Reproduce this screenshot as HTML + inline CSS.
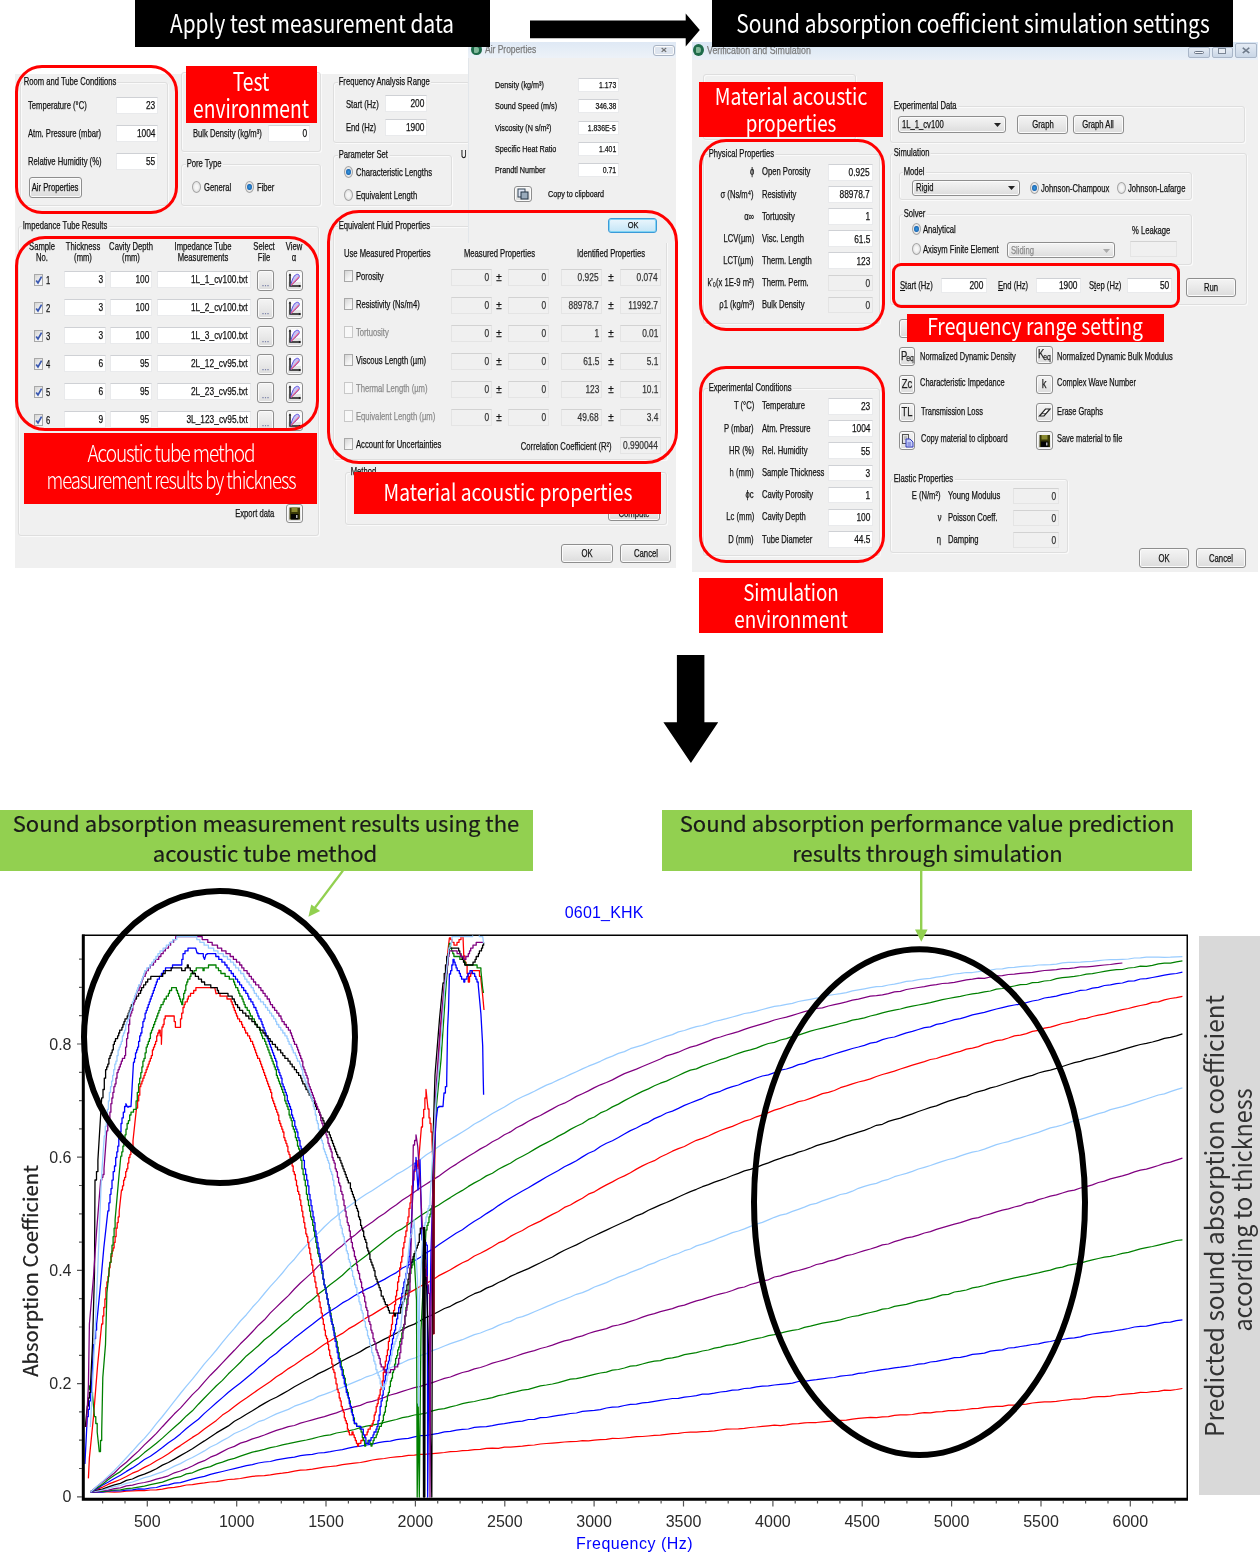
<!DOCTYPE html>
<html lang="en"><head><meta charset="utf-8"><title>Sound absorption coefficient simulation</title>
<style>
html,body{margin:0;padding:0;background:#fff;}
#pg{position:relative;width:1260px;height:1554px;overflow:hidden;background:#fff;font-family:"Liberation Sans",sans-serif;color:#111;}
#pg div,#pg svg.ov{position:absolute;}
#pg div{box-sizing:border-box;}
.t{white-space:nowrap;}
#dl .t{-webkit-text-stroke:0.25px;}
.k{font-family:"Noto Sans CJK KR","Liberation Sans",sans-serif;}
.gs{-webkit-text-stroke:0.2px #1a1a1a;}
.gb{border:1px solid #dedede;border-radius:3px;box-shadow:inset 1px 1px 0 #fafafa,1px 1px 0 #fafafa;}
.in{background:#fff;border:1px solid #e9eaec;border-top-color:#cfd1d5;}
.dis{background:#f0f0f0;border-color:#e4e4e4;border-top-color:#d2d2d2;}
.bt{background:linear-gradient(#f4f4f4,#e9e9e9 50%,#dcdcdc);border:1px solid #8e8e8e;border-radius:3px;box-shadow:inset 0 0 0 1px #fbfbfb;}
.ok{background:linear-gradient(#eaf6fd,#c4e5f6);border-color:#3c9ad8;box-shadow:inset 0 0 0 1px #7fd4f4;}
.ck{background:linear-gradient(135deg,#d4d4d4,#f6f6f6 70%);border:1px solid #a8a8a8;}
.ckd{border-color:#c8c8c8;background:#f8f8f8;}
.rd{background:radial-gradient(#f6f6f6 30%,#d2d2d2);border:1px solid #a6a6a6;border-radius:50%;}
.rd i{position:absolute;left:1.5px;top:2px;width:4.500px;height:6px;border-radius:50%;background:radial-gradient(#3a9ae0,#0a4c9c);display:block;}
.bt svg,.ck svg{position:absolute;left:-1px;top:-1px;}
</style></head><body><div id="pg">
<div id="dl" style="left:0;top:0;width:1260px;height:660px;filter:blur(0.45px);">
<div style="left:15px;top:73.5px;width:661px;height:494.5px;background:#f0f0f0;"></div>
<div class="gb" style="left:20px;top:82px;width:148px;height:124px;"></div>
<div class="t" style="top:75.4px;font-size:11px;line-height:13.2px;left:22.5px;transform-origin:0 50%;transform:scaleX(0.695);background:#f0f0f0;padding:0 2px 0 1px;">Room and Tube Conditions</div>
<div class="t" style="top:98.9px;font-size:11px;line-height:13.2px;left:28px;transform-origin:0 50%;transform:scaleX(0.695);">Temperature (°C)</div>
<div class="in" style="left:116px;top:97px;width:42px;height:17px;"></div>
<div class="t" style="top:99.4px;font-size:11px;line-height:13.2px;color:#111;right:1105px;transform-origin:100% 50%;transform:scaleX(0.76);">23</div>
<div class="t" style="top:126.9px;font-size:11px;line-height:13.2px;left:28px;transform-origin:0 50%;transform:scaleX(0.695);">Atm. Pressure (mbar)</div>
<div class="in" style="left:116px;top:125px;width:42px;height:17px;"></div>
<div class="t" style="top:127.4px;font-size:11px;line-height:13.2px;color:#111;right:1105px;transform-origin:100% 50%;transform:scaleX(0.76);">1004</div>
<div class="t" style="top:154.9px;font-size:11px;line-height:13.2px;left:28px;transform-origin:0 50%;transform:scaleX(0.695);">Relative Humidity (%)</div>
<div class="in" style="left:116px;top:153px;width:42px;height:17px;"></div>
<div class="t" style="top:155.4px;font-size:11px;line-height:13.2px;color:#111;right:1105px;transform-origin:100% 50%;transform:scaleX(0.76);">55</div>
<div class="bt" style="left:28.5px;top:177px;width:53.0px;height:20.5px;"></div>
<div class="t" style="top:181.2px;font-size:11px;line-height:13.2px;left:55.0px;transform:translateX(-50%) scaleX(0.7);">Air Properties</div>
<div class="gb" style="left:181px;top:72px;width:140px;height:80px;"></div>
<div class="t" style="top:126.9px;font-size:11px;line-height:13.2px;left:193px;transform-origin:0 50%;transform:scaleX(0.695);">Bulk Density (kg/m³)</div>
<div class="in" style="left:268px;top:125px;width:42px;height:17px;"></div>
<div class="t" style="top:127.4px;font-size:11px;line-height:13.2px;color:#111;right:953px;transform-origin:100% 50%;transform:scaleX(0.76);">0</div>
<div class="gb" style="left:181px;top:164px;width:140px;height:42px;"></div>
<div class="t" style="top:157.4px;font-size:11px;line-height:13.2px;left:185.5px;transform-origin:0 50%;transform:scaleX(0.695);background:#f0f0f0;padding:0 2px 0 1px;">Pore Type</div>
<div class="rd" style="left:191.6px;top:181.2px;width:9.0px;height:11.5px;"></div>
<div class="t" style="top:180.9px;font-size:11px;line-height:13.2px;left:204px;transform-origin:0 50%;transform:scaleX(0.695);">General</div>
<div class="rd" style="left:244.6px;top:181.2px;width:9.0px;height:11.5px;"><i></i></div>
<div class="t" style="top:180.9px;font-size:11px;line-height:13.2px;left:257px;transform-origin:0 50%;transform:scaleX(0.695);">Fiber</div>
<div class="gb" style="left:333px;top:82px;width:137px;height:61px;"></div>
<div class="t" style="top:75.4px;font-size:11px;line-height:13.2px;left:337.5px;transform-origin:0 50%;transform:scaleX(0.695);background:#f0f0f0;padding:0 2px 0 1px;">Frequency Analysis Range</div>
<div class="t" style="top:97.9px;font-size:11px;line-height:13.2px;left:346px;transform-origin:0 50%;transform:scaleX(0.695);">Start (Hz)</div>
<div class="in" style="left:385px;top:95px;width:42px;height:17px;"></div>
<div class="t" style="top:97.4px;font-size:11px;line-height:13.2px;color:#111;right:836px;transform-origin:100% 50%;transform:scaleX(0.76);">200</div>
<div class="t" style="top:120.9px;font-size:11px;line-height:13.2px;left:346px;transform-origin:0 50%;transform:scaleX(0.695);">End (Hz)</div>
<div class="in" style="left:385px;top:119px;width:42px;height:17px;"></div>
<div class="t" style="top:121.4px;font-size:11px;line-height:13.2px;color:#111;right:836px;transform-origin:100% 50%;transform:scaleX(0.76);">1900</div>
<div class="gb" style="left:333px;top:155px;width:119px;height:51px;"></div>
<div class="t" style="top:148.4px;font-size:11px;line-height:13.2px;left:337.5px;transform-origin:0 50%;transform:scaleX(0.695);background:#f0f0f0;padding:0 2px 0 1px;">Parameter Set</div>
<div class="rd" style="left:343.6px;top:166.2px;width:9.0px;height:11.5px;"><i></i></div>
<div class="t" style="top:165.9px;font-size:11px;line-height:13.2px;left:356px;transform-origin:0 50%;transform:scaleX(0.695);">Characteristic Lengths</div>
<div class="rd" style="left:343.6px;top:189.2px;width:9.0px;height:11.5px;"></div>
<div class="t" style="top:188.9px;font-size:11px;line-height:13.2px;left:356px;transform-origin:0 50%;transform:scaleX(0.695);">Equivalent Length</div>
<div class="t" style="top:148.4px;font-size:11px;line-height:13.2px;left:461px;transform-origin:0 50%;transform:scaleX(0.695);">U</div>
<div class="gb" style="left:18px;top:226px;width:301px;height:310px;"></div>
<div class="t" style="top:219.4px;font-size:11px;line-height:13.2px;left:21.5px;transform-origin:0 50%;transform:scaleX(0.695);background:#f0f0f0;padding:0 2px 0 1px;">Impedance Tube Results</div>
<div class="t" style="top:240.4px;font-size:11px;line-height:13.2px;left:42px;transform:translateX(-50%) scaleX(0.695);">Sample</div>
<div class="t" style="top:251.4px;font-size:11px;line-height:13.2px;left:42px;transform:translateX(-50%) scaleX(0.695);">No.</div>
<div class="t" style="top:240.4px;font-size:11px;line-height:13.2px;left:83px;transform:translateX(-50%) scaleX(0.695);">Thickness</div>
<div class="t" style="top:251.4px;font-size:11px;line-height:13.2px;left:83px;transform:translateX(-50%) scaleX(0.695);">(mm)</div>
<div class="t" style="top:240.4px;font-size:11px;line-height:13.2px;left:131px;transform:translateX(-50%) scaleX(0.695);">Cavity Depth</div>
<div class="t" style="top:251.4px;font-size:11px;line-height:13.2px;left:131px;transform:translateX(-50%) scaleX(0.695);">(mm)</div>
<div class="t" style="top:240.4px;font-size:11px;line-height:13.2px;left:203px;transform:translateX(-50%) scaleX(0.695);">Impedance Tube</div>
<div class="t" style="top:251.4px;font-size:11px;line-height:13.2px;left:203px;transform:translateX(-50%) scaleX(0.695);">Measurements</div>
<div class="t" style="top:240.4px;font-size:11px;line-height:13.2px;left:264px;transform:translateX(-50%) scaleX(0.695);">Select</div>
<div class="t" style="top:251.4px;font-size:11px;line-height:13.2px;left:264px;transform:translateX(-50%) scaleX(0.695);">File</div>
<div class="t" style="top:240.4px;font-size:11px;line-height:13.2px;left:294px;transform:translateX(-50%) scaleX(0.695);">View</div>
<div class="t" style="top:251.4px;font-size:11px;line-height:13.2px;left:294px;transform:translateX(-50%) scaleX(0.695);">α</div>
<div class="ck" style="left:33.7px;top:274.3px;width:9.5px;height:12.0px;"><svg width="10" height="12" viewBox="0 0 10 12"><path d="M2.2 6.4 L4 9 L7.600 2.600" fill="none" stroke="#3a58b0" stroke-width="1.7"/></svg></div>
<div class="t" style="top:274.4px;font-size:11px;line-height:13.2px;left:46px;transform-origin:0 50%;transform:scaleX(0.695);">1</div>
<div class="in" style="left:64px;top:271px;width:42px;height:17px;"></div>
<div class="t" style="top:273.4px;font-size:11px;line-height:13.2px;color:#111;right:1157px;transform-origin:100% 50%;transform:scaleX(0.76);">3</div>
<div class="in" style="left:110px;top:271px;width:42px;height:17px;"></div>
<div class="t" style="top:273.4px;font-size:11px;line-height:13.2px;color:#111;right:1111px;transform-origin:100% 50%;transform:scaleX(0.76);">100</div>
<div class="in" style="left:157px;top:271px;width:94px;height:17px;"></div>
<div class="t" style="top:273.4px;font-size:11px;line-height:13.2px;color:#111;right:1012px;transform-origin:100% 50%;transform:scaleX(0.76);">1L_1_cv100.txt</div>
<div class="bt" style="left:257px;top:269.5px;width:17px;height:21.0px;"></div>
<div class="t" style="top:277.6px;font-size:9px;line-height:10.8px;color:#7a80a8;left:265.5px;transform:translateX(-50%) scaleX(1);">...</div>
<div class="bt" style="left:286px;top:269.5px;width:17px;height:21.0px;"><svg width="17" height="21" viewBox="0 0 17 21"><rect x="2.5" y="3" width="12.5" height="9" fill="#fff" opacity=".8"/><path d="M4 4.5V16H14.5" fill="none" stroke="#1a1a1a" stroke-width="1.5"/><path d="M4 3.2L5.3 5.6H2.700ZM15.300 16L12.900 14.700V17.300Z" fill="#1a1a1a"/><path d="M4.800 15.500C6 9 8.500 4 11.500 4.300C14.500 4.800 13.500 8 10.500 10.500C8 12.800 6 14.500 4.800 15.500Z" fill="#c9c4f4" stroke="#5a50e0" stroke-width="1"/><path d="M5 15.300L13 6.800" stroke="#f06080" stroke-width="1.100" fill="none"/></svg></div>
<div class="ck" style="left:33.7px;top:302.3px;width:9.5px;height:12.0px;"><svg width="10" height="12" viewBox="0 0 10 12"><path d="M2.2 6.4 L4 9 L7.600 2.600" fill="none" stroke="#3a58b0" stroke-width="1.7"/></svg></div>
<div class="t" style="top:302.4px;font-size:11px;line-height:13.2px;left:46px;transform-origin:0 50%;transform:scaleX(0.695);">2</div>
<div class="in" style="left:64px;top:299px;width:42px;height:17px;"></div>
<div class="t" style="top:301.4px;font-size:11px;line-height:13.2px;color:#111;right:1157px;transform-origin:100% 50%;transform:scaleX(0.76);">3</div>
<div class="in" style="left:110px;top:299px;width:42px;height:17px;"></div>
<div class="t" style="top:301.4px;font-size:11px;line-height:13.2px;color:#111;right:1111px;transform-origin:100% 50%;transform:scaleX(0.76);">100</div>
<div class="in" style="left:157px;top:299px;width:94px;height:17px;"></div>
<div class="t" style="top:301.4px;font-size:11px;line-height:13.2px;color:#111;right:1012px;transform-origin:100% 50%;transform:scaleX(0.76);">1L_2_cv100.txt</div>
<div class="bt" style="left:257px;top:297.5px;width:17px;height:21.0px;"></div>
<div class="t" style="top:305.6px;font-size:9px;line-height:10.8px;color:#7a80a8;left:265.5px;transform:translateX(-50%) scaleX(1);">...</div>
<div class="bt" style="left:286px;top:297.5px;width:17px;height:21.0px;"><svg width="17" height="21" viewBox="0 0 17 21"><rect x="2.5" y="3" width="12.5" height="9" fill="#fff" opacity=".8"/><path d="M4 4.5V16H14.5" fill="none" stroke="#1a1a1a" stroke-width="1.5"/><path d="M4 3.2L5.3 5.6H2.700ZM15.300 16L12.900 14.700V17.300Z" fill="#1a1a1a"/><path d="M4.800 15.500C6 9 8.500 4 11.500 4.300C14.500 4.800 13.500 8 10.500 10.500C8 12.800 6 14.500 4.800 15.500Z" fill="#c9c4f4" stroke="#5a50e0" stroke-width="1"/><path d="M5 15.300L13 6.800" stroke="#f06080" stroke-width="1.100" fill="none"/></svg></div>
<div class="ck" style="left:33.7px;top:330.3px;width:9.5px;height:12.0px;"><svg width="10" height="12" viewBox="0 0 10 12"><path d="M2.2 6.4 L4 9 L7.600 2.600" fill="none" stroke="#3a58b0" stroke-width="1.7"/></svg></div>
<div class="t" style="top:330.4px;font-size:11px;line-height:13.2px;left:46px;transform-origin:0 50%;transform:scaleX(0.695);">3</div>
<div class="in" style="left:64px;top:327px;width:42px;height:17px;"></div>
<div class="t" style="top:329.4px;font-size:11px;line-height:13.2px;color:#111;right:1157px;transform-origin:100% 50%;transform:scaleX(0.76);">3</div>
<div class="in" style="left:110px;top:327px;width:42px;height:17px;"></div>
<div class="t" style="top:329.4px;font-size:11px;line-height:13.2px;color:#111;right:1111px;transform-origin:100% 50%;transform:scaleX(0.76);">100</div>
<div class="in" style="left:157px;top:327px;width:94px;height:17px;"></div>
<div class="t" style="top:329.4px;font-size:11px;line-height:13.2px;color:#111;right:1012px;transform-origin:100% 50%;transform:scaleX(0.76);">1L_3_cv100.txt</div>
<div class="bt" style="left:257px;top:325.5px;width:17px;height:21.0px;"></div>
<div class="t" style="top:333.6px;font-size:9px;line-height:10.8px;color:#7a80a8;left:265.5px;transform:translateX(-50%) scaleX(1);">...</div>
<div class="bt" style="left:286px;top:325.5px;width:17px;height:21.0px;"><svg width="17" height="21" viewBox="0 0 17 21"><rect x="2.5" y="3" width="12.5" height="9" fill="#fff" opacity=".8"/><path d="M4 4.5V16H14.5" fill="none" stroke="#1a1a1a" stroke-width="1.5"/><path d="M4 3.2L5.3 5.6H2.700ZM15.300 16L12.900 14.700V17.300Z" fill="#1a1a1a"/><path d="M4.800 15.500C6 9 8.500 4 11.500 4.300C14.500 4.800 13.500 8 10.500 10.500C8 12.800 6 14.500 4.800 15.500Z" fill="#c9c4f4" stroke="#5a50e0" stroke-width="1"/><path d="M5 15.300L13 6.800" stroke="#f06080" stroke-width="1.100" fill="none"/></svg></div>
<div class="ck" style="left:33.7px;top:358.3px;width:9.5px;height:12.0px;"><svg width="10" height="12" viewBox="0 0 10 12"><path d="M2.2 6.4 L4 9 L7.600 2.600" fill="none" stroke="#3a58b0" stroke-width="1.7"/></svg></div>
<div class="t" style="top:358.4px;font-size:11px;line-height:13.2px;left:46px;transform-origin:0 50%;transform:scaleX(0.695);">4</div>
<div class="in" style="left:64px;top:355px;width:42px;height:17px;"></div>
<div class="t" style="top:357.4px;font-size:11px;line-height:13.2px;color:#111;right:1157px;transform-origin:100% 50%;transform:scaleX(0.76);">6</div>
<div class="in" style="left:110px;top:355px;width:42px;height:17px;"></div>
<div class="t" style="top:357.4px;font-size:11px;line-height:13.2px;color:#111;right:1111px;transform-origin:100% 50%;transform:scaleX(0.76);">95</div>
<div class="in" style="left:157px;top:355px;width:94px;height:17px;"></div>
<div class="t" style="top:357.4px;font-size:11px;line-height:13.2px;color:#111;right:1012px;transform-origin:100% 50%;transform:scaleX(0.76);">2L_12_cv95.txt</div>
<div class="bt" style="left:257px;top:353.5px;width:17px;height:21.0px;"></div>
<div class="t" style="top:361.6px;font-size:9px;line-height:10.8px;color:#7a80a8;left:265.5px;transform:translateX(-50%) scaleX(1);">...</div>
<div class="bt" style="left:286px;top:353.5px;width:17px;height:21.0px;"><svg width="17" height="21" viewBox="0 0 17 21"><rect x="2.5" y="3" width="12.5" height="9" fill="#fff" opacity=".8"/><path d="M4 4.5V16H14.5" fill="none" stroke="#1a1a1a" stroke-width="1.5"/><path d="M4 3.2L5.3 5.6H2.700ZM15.300 16L12.900 14.700V17.300Z" fill="#1a1a1a"/><path d="M4.800 15.500C6 9 8.500 4 11.500 4.300C14.500 4.800 13.500 8 10.500 10.500C8 12.800 6 14.500 4.800 15.500Z" fill="#c9c4f4" stroke="#5a50e0" stroke-width="1"/><path d="M5 15.300L13 6.800" stroke="#f06080" stroke-width="1.100" fill="none"/></svg></div>
<div class="ck" style="left:33.7px;top:386.3px;width:9.5px;height:12.0px;"><svg width="10" height="12" viewBox="0 0 10 12"><path d="M2.2 6.4 L4 9 L7.600 2.600" fill="none" stroke="#3a58b0" stroke-width="1.7"/></svg></div>
<div class="t" style="top:386.4px;font-size:11px;line-height:13.2px;left:46px;transform-origin:0 50%;transform:scaleX(0.695);">5</div>
<div class="in" style="left:64px;top:383px;width:42px;height:17px;"></div>
<div class="t" style="top:385.4px;font-size:11px;line-height:13.2px;color:#111;right:1157px;transform-origin:100% 50%;transform:scaleX(0.76);">6</div>
<div class="in" style="left:110px;top:383px;width:42px;height:17px;"></div>
<div class="t" style="top:385.4px;font-size:11px;line-height:13.2px;color:#111;right:1111px;transform-origin:100% 50%;transform:scaleX(0.76);">95</div>
<div class="in" style="left:157px;top:383px;width:94px;height:17px;"></div>
<div class="t" style="top:385.4px;font-size:11px;line-height:13.2px;color:#111;right:1012px;transform-origin:100% 50%;transform:scaleX(0.76);">2L_23_cv95.txt</div>
<div class="bt" style="left:257px;top:381.5px;width:17px;height:21.0px;"></div>
<div class="t" style="top:389.6px;font-size:9px;line-height:10.8px;color:#7a80a8;left:265.5px;transform:translateX(-50%) scaleX(1);">...</div>
<div class="bt" style="left:286px;top:381.5px;width:17px;height:21.0px;"><svg width="17" height="21" viewBox="0 0 17 21"><rect x="2.5" y="3" width="12.5" height="9" fill="#fff" opacity=".8"/><path d="M4 4.5V16H14.5" fill="none" stroke="#1a1a1a" stroke-width="1.5"/><path d="M4 3.2L5.3 5.6H2.700ZM15.300 16L12.900 14.700V17.300Z" fill="#1a1a1a"/><path d="M4.800 15.500C6 9 8.500 4 11.500 4.300C14.500 4.800 13.500 8 10.500 10.500C8 12.800 6 14.500 4.800 15.500Z" fill="#c9c4f4" stroke="#5a50e0" stroke-width="1"/><path d="M5 15.300L13 6.800" stroke="#f06080" stroke-width="1.100" fill="none"/></svg></div>
<div class="ck" style="left:33.7px;top:414.3px;width:9.5px;height:12.0px;"><svg width="10" height="12" viewBox="0 0 10 12"><path d="M2.2 6.4 L4 9 L7.600 2.600" fill="none" stroke="#3a58b0" stroke-width="1.7"/></svg></div>
<div class="t" style="top:414.4px;font-size:11px;line-height:13.2px;left:46px;transform-origin:0 50%;transform:scaleX(0.695);">6</div>
<div class="in" style="left:64px;top:411px;width:42px;height:17px;"></div>
<div class="t" style="top:413.4px;font-size:11px;line-height:13.2px;color:#111;right:1157px;transform-origin:100% 50%;transform:scaleX(0.76);">9</div>
<div class="in" style="left:110px;top:411px;width:42px;height:17px;"></div>
<div class="t" style="top:413.4px;font-size:11px;line-height:13.2px;color:#111;right:1111px;transform-origin:100% 50%;transform:scaleX(0.76);">95</div>
<div class="in" style="left:157px;top:411px;width:94px;height:17px;"></div>
<div class="t" style="top:413.4px;font-size:11px;line-height:13.2px;color:#111;right:1012px;transform-origin:100% 50%;transform:scaleX(0.76);">3L_123_cv95.txt</div>
<div class="bt" style="left:257px;top:409.5px;width:17px;height:21.0px;"></div>
<div class="t" style="top:417.6px;font-size:9px;line-height:10.8px;color:#7a80a8;left:265.5px;transform:translateX(-50%) scaleX(1);">...</div>
<div class="bt" style="left:286px;top:409.5px;width:17px;height:21.0px;"><svg width="17" height="21" viewBox="0 0 17 21"><rect x="2.5" y="3" width="12.5" height="9" fill="#fff" opacity=".8"/><path d="M4 4.5V16H14.5" fill="none" stroke="#1a1a1a" stroke-width="1.5"/><path d="M4 3.2L5.3 5.6H2.700ZM15.300 16L12.900 14.700V17.300Z" fill="#1a1a1a"/><path d="M4.800 15.500C6 9 8.500 4 11.500 4.300C14.500 4.800 13.500 8 10.500 10.500C8 12.800 6 14.500 4.800 15.500Z" fill="#c9c4f4" stroke="#5a50e0" stroke-width="1"/><path d="M5 15.300L13 6.800" stroke="#f06080" stroke-width="1.100" fill="none"/></svg></div>
<div class="gb" style="left:333px;top:226px;width:334px;height:234px;"></div>
<div class="t" style="top:219.4px;font-size:11px;line-height:13.2px;left:337.5px;transform-origin:0 50%;transform:scaleX(0.695);background:#f0f0f0;padding:0 2px 0 1px;">Equivalent Fluid Properties</div>
<div class="t" style="top:247.4px;font-size:11px;line-height:13.2px;left:344px;transform-origin:0 50%;transform:scaleX(0.695);">Use Measured Properties</div>
<div class="t" style="top:247.4px;font-size:11px;line-height:13.2px;left:464px;transform-origin:0 50%;transform:scaleX(0.695);">Measured Properties</div>
<div class="t" style="top:247.4px;font-size:11px;line-height:13.2px;left:577px;transform-origin:0 50%;transform:scaleX(0.695);">Identified Properties</div>
<div class="ck" style="left:343.7px;top:270.3px;width:9.5px;height:12.0px;"></div>
<div class="t" style="top:270.4px;font-size:11px;line-height:13.2px;left:356px;transform-origin:0 50%;transform:scaleX(0.695);">Porosity</div>
<div class="in dis" style="left:451px;top:269px;width:41px;height:17px;"></div>
<div class="t" style="top:271.4px;font-size:11px;line-height:13.2px;color:#333;right:771px;transform-origin:100% 50%;transform:scaleX(0.76);">0</div>
<div class="t" style="top:271.4px;font-size:11px;line-height:13.2px;left:499px;transform:translateX(-50%) scaleX(0.9);">±</div>
<div class="in dis" style="left:508px;top:269px;width:41px;height:17px;"></div>
<div class="t" style="top:271.4px;font-size:11px;line-height:13.2px;color:#333;right:714px;transform-origin:100% 50%;transform:scaleX(0.76);">0</div>
<div class="in dis" style="left:561px;top:269px;width:41px;height:17px;"></div>
<div class="t" style="top:271.4px;font-size:11px;line-height:13.2px;color:#333;right:661px;transform-origin:100% 50%;transform:scaleX(0.76);">0.925</div>
<div class="t" style="top:271.4px;font-size:11px;line-height:13.2px;left:611px;transform:translateX(-50%) scaleX(0.9);">±</div>
<div class="in dis" style="left:620px;top:269px;width:41px;height:17px;"></div>
<div class="t" style="top:271.4px;font-size:11px;line-height:13.2px;color:#333;right:602px;transform-origin:100% 50%;transform:scaleX(0.76);">0.074</div>
<div class="ck" style="left:343.7px;top:298.3px;width:9.5px;height:12.0px;"></div>
<div class="t" style="top:298.4px;font-size:11px;line-height:13.2px;left:356px;transform-origin:0 50%;transform:scaleX(0.695);">Resistivity (Ns/m4)</div>
<div class="in dis" style="left:451px;top:297px;width:41px;height:17px;"></div>
<div class="t" style="top:299.4px;font-size:11px;line-height:13.2px;color:#333;right:771px;transform-origin:100% 50%;transform:scaleX(0.76);">0</div>
<div class="t" style="top:299.4px;font-size:11px;line-height:13.2px;left:499px;transform:translateX(-50%) scaleX(0.9);">±</div>
<div class="in dis" style="left:508px;top:297px;width:41px;height:17px;"></div>
<div class="t" style="top:299.4px;font-size:11px;line-height:13.2px;color:#333;right:714px;transform-origin:100% 50%;transform:scaleX(0.76);">0</div>
<div class="in dis" style="left:561px;top:297px;width:41px;height:17px;"></div>
<div class="t" style="top:299.4px;font-size:11px;line-height:13.2px;color:#333;right:661px;transform-origin:100% 50%;transform:scaleX(0.76);">88978.7</div>
<div class="t" style="top:299.4px;font-size:11px;line-height:13.2px;left:611px;transform:translateX(-50%) scaleX(0.9);">±</div>
<div class="in dis" style="left:620px;top:297px;width:41px;height:17px;"></div>
<div class="t" style="top:299.4px;font-size:11px;line-height:13.2px;color:#333;right:602px;transform-origin:100% 50%;transform:scaleX(0.76);">11992.7</div>
<div class="ck ckd" style="left:343.7px;top:326.3px;width:9.5px;height:12.0px;"></div>
<div class="t" style="top:326.4px;font-size:11px;line-height:13.2px;color:#8a8a8a;left:356px;transform-origin:0 50%;transform:scaleX(0.695);">Tortuosity</div>
<div class="in dis" style="left:451px;top:325px;width:41px;height:17px;"></div>
<div class="t" style="top:327.4px;font-size:11px;line-height:13.2px;color:#333;right:771px;transform-origin:100% 50%;transform:scaleX(0.76);">0</div>
<div class="t" style="top:327.4px;font-size:11px;line-height:13.2px;left:499px;transform:translateX(-50%) scaleX(0.9);">±</div>
<div class="in dis" style="left:508px;top:325px;width:41px;height:17px;"></div>
<div class="t" style="top:327.4px;font-size:11px;line-height:13.2px;color:#333;right:714px;transform-origin:100% 50%;transform:scaleX(0.76);">0</div>
<div class="in dis" style="left:561px;top:325px;width:41px;height:17px;"></div>
<div class="t" style="top:327.4px;font-size:11px;line-height:13.2px;color:#333;right:661px;transform-origin:100% 50%;transform:scaleX(0.76);">1</div>
<div class="t" style="top:327.4px;font-size:11px;line-height:13.2px;left:611px;transform:translateX(-50%) scaleX(0.9);">±</div>
<div class="in dis" style="left:620px;top:325px;width:41px;height:17px;"></div>
<div class="t" style="top:327.4px;font-size:11px;line-height:13.2px;color:#333;right:602px;transform-origin:100% 50%;transform:scaleX(0.76);">0.01</div>
<div class="ck" style="left:343.7px;top:354.3px;width:9.5px;height:12.0px;"></div>
<div class="t" style="top:354.4px;font-size:11px;line-height:13.2px;left:356px;transform-origin:0 50%;transform:scaleX(0.695);">Viscous Length (µm)</div>
<div class="in dis" style="left:451px;top:353px;width:41px;height:17px;"></div>
<div class="t" style="top:355.4px;font-size:11px;line-height:13.2px;color:#333;right:771px;transform-origin:100% 50%;transform:scaleX(0.76);">0</div>
<div class="t" style="top:355.4px;font-size:11px;line-height:13.2px;left:499px;transform:translateX(-50%) scaleX(0.9);">±</div>
<div class="in dis" style="left:508px;top:353px;width:41px;height:17px;"></div>
<div class="t" style="top:355.4px;font-size:11px;line-height:13.2px;color:#333;right:714px;transform-origin:100% 50%;transform:scaleX(0.76);">0</div>
<div class="in dis" style="left:561px;top:353px;width:41px;height:17px;"></div>
<div class="t" style="top:355.4px;font-size:11px;line-height:13.2px;color:#333;right:661px;transform-origin:100% 50%;transform:scaleX(0.76);">61.5</div>
<div class="t" style="top:355.4px;font-size:11px;line-height:13.2px;left:611px;transform:translateX(-50%) scaleX(0.9);">±</div>
<div class="in dis" style="left:620px;top:353px;width:41px;height:17px;"></div>
<div class="t" style="top:355.4px;font-size:11px;line-height:13.2px;color:#333;right:602px;transform-origin:100% 50%;transform:scaleX(0.76);">5.1</div>
<div class="ck ckd" style="left:343.7px;top:382.3px;width:9.5px;height:12.0px;"></div>
<div class="t" style="top:382.4px;font-size:11px;line-height:13.2px;color:#8a8a8a;left:356px;transform-origin:0 50%;transform:scaleX(0.695);">Thermal Length (µm)</div>
<div class="in dis" style="left:451px;top:381px;width:41px;height:17px;"></div>
<div class="t" style="top:383.4px;font-size:11px;line-height:13.2px;color:#333;right:771px;transform-origin:100% 50%;transform:scaleX(0.76);">0</div>
<div class="t" style="top:383.4px;font-size:11px;line-height:13.2px;left:499px;transform:translateX(-50%) scaleX(0.9);">±</div>
<div class="in dis" style="left:508px;top:381px;width:41px;height:17px;"></div>
<div class="t" style="top:383.4px;font-size:11px;line-height:13.2px;color:#333;right:714px;transform-origin:100% 50%;transform:scaleX(0.76);">0</div>
<div class="in dis" style="left:561px;top:381px;width:41px;height:17px;"></div>
<div class="t" style="top:383.4px;font-size:11px;line-height:13.2px;color:#333;right:661px;transform-origin:100% 50%;transform:scaleX(0.76);">123</div>
<div class="t" style="top:383.4px;font-size:11px;line-height:13.2px;left:611px;transform:translateX(-50%) scaleX(0.9);">±</div>
<div class="in dis" style="left:620px;top:381px;width:41px;height:17px;"></div>
<div class="t" style="top:383.4px;font-size:11px;line-height:13.2px;color:#333;right:602px;transform-origin:100% 50%;transform:scaleX(0.76);">10.1</div>
<div class="ck ckd" style="left:343.7px;top:410.3px;width:9.5px;height:12.0px;"></div>
<div class="t" style="top:410.4px;font-size:11px;line-height:13.2px;color:#8a8a8a;left:356px;transform-origin:0 50%;transform:scaleX(0.695);">Equivalent Length (µm)</div>
<div class="in dis" style="left:451px;top:409px;width:41px;height:17px;"></div>
<div class="t" style="top:411.4px;font-size:11px;line-height:13.2px;color:#333;right:771px;transform-origin:100% 50%;transform:scaleX(0.76);">0</div>
<div class="t" style="top:411.4px;font-size:11px;line-height:13.2px;left:499px;transform:translateX(-50%) scaleX(0.9);">±</div>
<div class="in dis" style="left:508px;top:409px;width:41px;height:17px;"></div>
<div class="t" style="top:411.4px;font-size:11px;line-height:13.2px;color:#333;right:714px;transform-origin:100% 50%;transform:scaleX(0.76);">0</div>
<div class="in dis" style="left:561px;top:409px;width:41px;height:17px;"></div>
<div class="t" style="top:411.4px;font-size:11px;line-height:13.2px;color:#333;right:661px;transform-origin:100% 50%;transform:scaleX(0.76);">49.68</div>
<div class="t" style="top:411.4px;font-size:11px;line-height:13.2px;left:611px;transform:translateX(-50%) scaleX(0.9);">±</div>
<div class="in dis" style="left:620px;top:409px;width:41px;height:17px;"></div>
<div class="t" style="top:411.4px;font-size:11px;line-height:13.2px;color:#333;right:602px;transform-origin:100% 50%;transform:scaleX(0.76);">3.4</div>
<div class="ck" style="left:343.7px;top:438.3px;width:9.5px;height:12.0px;"></div>
<div class="t" style="top:438.4px;font-size:11px;line-height:13.2px;left:356px;transform-origin:0 50%;transform:scaleX(0.695);">Account for Uncertainties</div>
<div class="t" style="top:440.4px;font-size:11px;line-height:13.2px;right:648px;transform-origin:100% 50%;transform:scaleX(0.695);">Correlation Coefficient (R²)</div>
<div class="in dis" style="left:620px;top:437px;width:41px;height:17px;"></div>
<div class="t" style="top:439.4px;font-size:11px;line-height:13.2px;color:#333;right:602px;transform-origin:100% 50%;transform:scaleX(0.76);">0.990044</div>
<div class="gb" style="left:345px;top:472px;width:322px;height:53px;"></div>
<div class="t" style="top:465.4px;font-size:11px;line-height:13.2px;left:349.5px;transform-origin:0 50%;transform:scaleX(0.695);background:#f0f0f0;padding:0 2px 0 1px;">Method</div>
<div class="bt" style="left:608px;top:505px;width:52px;height:16px;"></div>
<div class="t" style="top:506.9px;font-size:11px;line-height:13.2px;left:634.0px;transform:translateX(-50%) scaleX(0.7);">Compute</div>
<div class="bt" style="left:561px;top:544px;width:52px;height:19px;"></div>
<div class="t" style="top:547.4px;font-size:11px;line-height:13.2px;left:587.0px;transform:translateX(-50%) scaleX(0.7);">OK</div>
<div class="bt" style="left:620px;top:544px;width:51px;height:19px;"></div>
<div class="t" style="top:547.4px;font-size:11px;line-height:13.2px;left:645.5px;transform:translateX(-50%) scaleX(0.7);">Cancel</div>
<div class="t" style="top:506.9px;font-size:11px;line-height:13.2px;right:986px;transform-origin:100% 50%;transform:scaleX(0.695);">Export data</div>
<div class="bt" style="left:286px;top:504px;width:17px;height:18.5px;"><svg width="17" height="19" viewBox="0 0 17 19"><rect x="3.500" y="3.500" width="10.500" height="12" fill="#3a3a08"/><rect x="5.500" y="3.500" width="6" height="4.500" fill="#8a8a30"/><rect x="5" y="10" width="7.500" height="5.500" fill="#050505"/><rect x="10" y="11" width="1.500" height="3" fill="#bbb"/></svg></div>
<div style="left:468px;top:42px;width:208px;height:201px;background:#f0f0f0;border-left:1px solid #e2e6ea;"></div>
<div style="left:468px;top:42px;width:208px;height:15.5px;background:linear-gradient(#dfe9f5,#edf2f8);"></div>
<div style="left:470.5px;top:43.5px;width:11.0px;height:11.5px;background:#1d6b4a;border-radius:50%;"></div>
<div style="left:474px;top:46.5px;width:5px;height:6.0px;background:#7fb89a;border-radius:1px 50% 50% 1px;"></div>
<div class="t" style="top:43.0px;font-size:10.9px;line-height:13.1px;color:#7a7a7a;left:484.5px;transform-origin:0 50%;transform:scaleX(0.777);">Air Properties</div>
<div class="bt" style="left:652.5px;top:44.5px;width:22.0px;height:11.0px;border-color:#a9b4c4;background:#dde4ee;"></div>
<div class="t" style="top:44.6px;font-size:9px;line-height:10.8px;color:#666;left:663.5px;transform:translateX(-50%) scaleX(1.2);">×</div>
<div class="t" style="top:79.9px;font-size:9.3px;line-height:11.2px;left:495px;transform-origin:0 50%;transform:scaleX(0.775);">Density (kg/m³)</div>
<div class="in" style="left:578px;top:78.0px;width:41px;height:14.0px;"></div>
<div class="t" style="top:79.9px;font-size:9.3px;line-height:11.2px;color:#111;right:644px;transform-origin:100% 50%;transform:scaleX(0.74);">1.173</div>
<div class="t" style="top:101.2px;font-size:9.3px;line-height:11.2px;left:495px;transform-origin:0 50%;transform:scaleX(0.775);">Sound Speed (m/s)</div>
<div class="in" style="left:578px;top:99.3px;width:41px;height:14.0px;"></div>
<div class="t" style="top:101.2px;font-size:9.3px;line-height:11.2px;color:#111;right:644px;transform-origin:100% 50%;transform:scaleX(0.74);">346.38</div>
<div class="t" style="top:122.5px;font-size:9.3px;line-height:11.2px;left:495px;transform-origin:0 50%;transform:scaleX(0.775);">Viscosity (N s/m²)</div>
<div class="in" style="left:578px;top:120.6px;width:41px;height:14.0px;"></div>
<div class="t" style="top:122.5px;font-size:9.3px;line-height:11.2px;color:#111;right:644px;transform-origin:100% 50%;transform:scaleX(0.74);">1.836E-5</div>
<div class="t" style="top:143.8px;font-size:9.3px;line-height:11.2px;left:495px;transform-origin:0 50%;transform:scaleX(0.775);">Specific Heat Ratio</div>
<div class="in" style="left:578px;top:141.9px;width:41px;height:14.0px;"></div>
<div class="t" style="top:143.8px;font-size:9.3px;line-height:11.2px;color:#111;right:644px;transform-origin:100% 50%;transform:scaleX(0.74);">1.401</div>
<div class="t" style="top:165.1px;font-size:9.3px;line-height:11.2px;left:495px;transform-origin:0 50%;transform:scaleX(0.775);">Prandtl Number</div>
<div class="in" style="left:578px;top:163.2px;width:41px;height:14.0px;"></div>
<div class="t" style="top:165.1px;font-size:9.3px;line-height:11.2px;color:#111;right:644px;transform-origin:100% 50%;transform:scaleX(0.74);">0.71</div>
<div class="bt" style="left:514px;top:186px;width:18px;height:16px;"><svg width="18" height="16" viewBox="0 0 18 16"><rect x="4" y="3" width="7" height="8" fill="#dfe6f5" stroke="#345" stroke-width="1"/><rect x="7" y="6" width="7" height="7" fill="#9ab" stroke="#234" stroke-width="1"/></svg></div>
<div class="t" style="top:188.9px;font-size:9.3px;line-height:11.2px;left:548px;transform-origin:0 50%;transform:scaleX(0.775);">Copy to clipboard</div>
<div class="bt ok" style="left:608px;top:218px;width:49px;height:15px;"></div>
<div class="t" style="top:220.4px;font-size:9.3px;line-height:11.2px;left:632.5px;transform:translateX(-50%) scaleX(0.8);">OK</div>
<div style="left:692px;top:42px;width:566px;height:529.5px;background:#f0f0f0;"></div>
<div style="left:692px;top:42px;width:566px;height:18px;background:linear-gradient(#d9e6f4,#e3ecf6 60%,#eaf0f7);"></div>
<div style="left:692.5px;top:43.5px;width:11.0px;height:12.0px;background:#1d6b4a;border-radius:50%;"></div>
<div style="left:696px;top:46.5px;width:5px;height:6.0px;background:#7fb89a;border-radius:1px 50% 50% 1px;"></div>
<div class="t" style="top:43.7px;font-size:11.3px;line-height:13.6px;color:#7a7a7a;left:706.5px;transform-origin:0 50%;transform:scaleX(0.78);">Verification and Simulation</div>
<div style="left:1187.5px;top:46.5px;width:22.5px;height:11.0px;border:1px solid #a9b6c8;border-radius:2px;background:linear-gradient(#e4ebf4,#c9d6e6);"></div>
<div style="left:1193.5px;top:50.5px;width:10.0px;height:3.5px;border:1px solid #6a7686;border-radius:2px;background:#f4f6fa;"></div>
<div style="left:1211.5px;top:46.5px;width:21.5px;height:11.0px;border:1px solid #a9b6c8;border-radius:2px;background:linear-gradient(#e4ebf4,#c9d6e6);"></div>
<div style="left:1218px;top:47.5px;width:8px;height:6.5px;border:1.5px solid #7a8696;background:#e8edf4;"></div>
<div style="left:1234.5px;top:43px;width:22.0px;height:14.5px;border:1px solid #a9b6c8;border-radius:2px;background:linear-gradient(#e4ebf4,#c9d6e6);"></div>
<div class="t" style="top:44.5px;font-size:10px;line-height:12.0px;color:#6a7686;left:1245.5px;transform:translateX(-50%) scaleX(1.2);">✕</div>
<div class="gb" style="left:703px;top:74px;width:153px;height:66px;"></div>
<div class="gb" style="left:703px;top:154px;width:177px;height:170px;"></div>
<div class="t" style="top:147.4px;font-size:11px;line-height:13.2px;left:707.5px;transform-origin:0 50%;transform:scaleX(0.695);background:#f0f0f0;padding:0 2px 0 1px;">Physical Properties</div>
<div class="t" style="top:165.4px;font-size:11px;line-height:13.2px;right:506px;transform-origin:100% 50%;transform:scaleX(0.695);">ϕ</div>
<div class="t" style="top:165.4px;font-size:11px;line-height:13.2px;left:762px;transform-origin:0 50%;transform:scaleX(0.695);">Open Porosity</div>
<div class="in" style="left:828px;top:164.0px;width:45px;height:16.5px;"></div>
<div class="t" style="top:166.2px;font-size:11px;line-height:13.2px;color:#111;right:390px;transform-origin:100% 50%;transform:scaleX(0.76);">0.925</div>
<div class="t" style="top:187.5px;font-size:11px;line-height:13.2px;right:506px;transform-origin:100% 50%;transform:scaleX(0.695);">σ (Ns/m⁴)</div>
<div class="t" style="top:187.5px;font-size:11px;line-height:13.2px;left:762px;transform-origin:0 50%;transform:scaleX(0.695);">Resistivity</div>
<div class="in" style="left:828px;top:186.1px;width:45px;height:16.5px;"></div>
<div class="t" style="top:188.2px;font-size:11px;line-height:13.2px;color:#111;right:390px;transform-origin:100% 50%;transform:scaleX(0.76);">88978.7</div>
<div class="t" style="top:209.6px;font-size:11px;line-height:13.2px;right:506px;transform-origin:100% 50%;transform:scaleX(0.695);">α∞</div>
<div class="t" style="top:209.6px;font-size:11px;line-height:13.2px;left:762px;transform-origin:0 50%;transform:scaleX(0.695);">Tortuosity</div>
<div class="in" style="left:828px;top:208.2px;width:45px;height:16.5px;"></div>
<div class="t" style="top:210.3px;font-size:11px;line-height:13.2px;color:#111;right:390px;transform-origin:100% 50%;transform:scaleX(0.76);">1</div>
<div class="t" style="top:231.7px;font-size:11px;line-height:13.2px;right:506px;transform-origin:100% 50%;transform:scaleX(0.695);">LCV(µm)</div>
<div class="t" style="top:231.7px;font-size:11px;line-height:13.2px;left:762px;transform-origin:0 50%;transform:scaleX(0.695);">Visc. Length</div>
<div class="in" style="left:828px;top:230.3px;width:45px;height:16.5px;"></div>
<div class="t" style="top:232.5px;font-size:11px;line-height:13.2px;color:#111;right:390px;transform-origin:100% 50%;transform:scaleX(0.76);">61.5</div>
<div class="t" style="top:253.8px;font-size:11px;line-height:13.2px;right:506px;transform-origin:100% 50%;transform:scaleX(0.695);">LCT(µm)</div>
<div class="t" style="top:253.8px;font-size:11px;line-height:13.2px;left:762px;transform-origin:0 50%;transform:scaleX(0.695);">Therm. Length</div>
<div class="in" style="left:828px;top:252.39999999999998px;width:45px;height:16.5px;"></div>
<div class="t" style="top:254.5px;font-size:11px;line-height:13.2px;color:#111;right:390px;transform-origin:100% 50%;transform:scaleX(0.76);">123</div>
<div class="t" style="top:275.9px;font-size:11px;line-height:13.2px;right:506px;transform-origin:100% 50%;transform:scaleX(0.695);">k'₀(x 1E-9 m²)</div>
<div class="t" style="top:275.9px;font-size:11px;line-height:13.2px;left:762px;transform-origin:0 50%;transform:scaleX(0.695);">Therm. Perm.</div>
<div class="in dis" style="left:828px;top:274.5px;width:45px;height:16.5px;"></div>
<div class="t" style="top:276.6px;font-size:11px;line-height:13.2px;color:#333;right:390px;transform-origin:100% 50%;transform:scaleX(0.76);">0</div>
<div class="t" style="top:298.0px;font-size:11px;line-height:13.2px;right:506px;transform-origin:100% 50%;transform:scaleX(0.695);">ρ1 (kg/m³)</div>
<div class="t" style="top:298.0px;font-size:11px;line-height:13.2px;left:762px;transform-origin:0 50%;transform:scaleX(0.695);">Bulk Density</div>
<div class="in dis" style="left:828px;top:296.6px;width:45px;height:16.5px;"></div>
<div class="t" style="top:298.8px;font-size:11px;line-height:13.2px;color:#333;right:390px;transform-origin:100% 50%;transform:scaleX(0.76);">0</div>
<div class="gb" style="left:703px;top:388px;width:177px;height:168px;"></div>
<div class="t" style="top:381.4px;font-size:11px;line-height:13.2px;left:707.5px;transform-origin:0 50%;transform:scaleX(0.695);background:#f0f0f0;padding:0 2px 0 1px;">Experimental Conditions</div>
<div class="t" style="top:399.4px;font-size:11px;line-height:13.2px;right:506px;transform-origin:100% 50%;transform:scaleX(0.695);">T (°C)</div>
<div class="t" style="top:399.4px;font-size:11px;line-height:13.2px;left:762px;transform-origin:0 50%;transform:scaleX(0.695);">Temperature</div>
<div class="in" style="left:828px;top:398.0px;width:45px;height:16.5px;"></div>
<div class="t" style="top:400.1px;font-size:11px;line-height:13.2px;color:#111;right:390px;transform-origin:100% 50%;transform:scaleX(0.76);">23</div>
<div class="t" style="top:421.6px;font-size:11px;line-height:13.2px;right:506px;transform-origin:100% 50%;transform:scaleX(0.695);">P (mbar)</div>
<div class="t" style="top:421.6px;font-size:11px;line-height:13.2px;left:762px;transform-origin:0 50%;transform:scaleX(0.695);">Atm. Pressure</div>
<div class="in" style="left:828px;top:420.2px;width:45px;height:16.5px;"></div>
<div class="t" style="top:422.3px;font-size:11px;line-height:13.2px;color:#111;right:390px;transform-origin:100% 50%;transform:scaleX(0.76);">1004</div>
<div class="t" style="top:443.8px;font-size:11px;line-height:13.2px;right:506px;transform-origin:100% 50%;transform:scaleX(0.695);">HR (%)</div>
<div class="t" style="top:443.8px;font-size:11px;line-height:13.2px;left:762px;transform-origin:0 50%;transform:scaleX(0.695);">Rel. Humidity</div>
<div class="in" style="left:828px;top:442.4px;width:45px;height:16.5px;"></div>
<div class="t" style="top:444.5px;font-size:11px;line-height:13.2px;color:#111;right:390px;transform-origin:100% 50%;transform:scaleX(0.76);">55</div>
<div class="t" style="top:466.0px;font-size:11px;line-height:13.2px;right:506px;transform-origin:100% 50%;transform:scaleX(0.695);">h (mm)</div>
<div class="t" style="top:466.0px;font-size:11px;line-height:13.2px;left:762px;transform-origin:0 50%;transform:scaleX(0.695);">Sample Thickness</div>
<div class="in" style="left:828px;top:464.6px;width:45px;height:16.5px;"></div>
<div class="t" style="top:466.8px;font-size:11px;line-height:13.2px;color:#111;right:390px;transform-origin:100% 50%;transform:scaleX(0.76);">3</div>
<div class="t" style="top:488.2px;font-size:11px;line-height:13.2px;right:506px;transform-origin:100% 50%;transform:scaleX(0.695);">ϕc</div>
<div class="t" style="top:488.2px;font-size:11px;line-height:13.2px;left:762px;transform-origin:0 50%;transform:scaleX(0.695);">Cavity Porosity</div>
<div class="in" style="left:828px;top:486.8px;width:45px;height:16.5px;"></div>
<div class="t" style="top:488.9px;font-size:11px;line-height:13.2px;color:#111;right:390px;transform-origin:100% 50%;transform:scaleX(0.76);">1</div>
<div class="t" style="top:510.4px;font-size:11px;line-height:13.2px;right:506px;transform-origin:100% 50%;transform:scaleX(0.695);">Lc (mm)</div>
<div class="t" style="top:510.4px;font-size:11px;line-height:13.2px;left:762px;transform-origin:0 50%;transform:scaleX(0.695);">Cavity Depth</div>
<div class="in" style="left:828px;top:509.0px;width:45px;height:16.5px;"></div>
<div class="t" style="top:511.1px;font-size:11px;line-height:13.2px;color:#111;right:390px;transform-origin:100% 50%;transform:scaleX(0.76);">100</div>
<div class="t" style="top:532.6px;font-size:11px;line-height:13.2px;right:506px;transform-origin:100% 50%;transform:scaleX(0.695);">D (mm)</div>
<div class="t" style="top:532.6px;font-size:11px;line-height:13.2px;left:762px;transform-origin:0 50%;transform:scaleX(0.695);">Tube Diameter</div>
<div class="in" style="left:828px;top:531.2px;width:45px;height:16.5px;"></div>
<div class="t" style="top:533.4px;font-size:11px;line-height:13.2px;color:#111;right:390px;transform-origin:100% 50%;transform:scaleX(0.76);">44.5</div>
<div class="gb" style="left:890px;top:106px;width:355px;height:37px;"></div>
<div class="t" style="top:99.4px;font-size:11px;line-height:13.2px;left:892.5px;transform-origin:0 50%;transform:scaleX(0.695);background:#f0f0f0;padding:0 2px 0 1px;">Experimental Data</div>
<div class="bt" style="left:897.5px;top:116px;width:108.5px;height:16.5px;"></div>
<div class="t" style="top:118.2px;font-size:11px;line-height:13.2px;color:#111;left:901.5px;transform-origin:0 50%;transform:scaleX(0.695);">1L_1_cv100</div>
<svg class="ov" width="7" height="4" viewBox="0 0 7 4" style="left:994px;top:122.75px"><path d="M0 0H7L3.500 4Z" fill="#222"/></svg>
<div class="bt" style="left:1017px;top:115px;width:51px;height:19px;"></div>
<div class="t" style="top:118.4px;font-size:11px;line-height:13.2px;left:1042.5px;transform:translateX(-50%) scaleX(0.7);">Graph</div>
<div class="bt" style="left:1073px;top:115px;width:50.5px;height:19px;"></div>
<div class="t" style="top:118.4px;font-size:11px;line-height:13.2px;left:1098.25px;transform:translateX(-50%) scaleX(0.7);">Graph All</div>
<div class="gb" style="left:890px;top:153px;width:356.5px;height:152px;"></div>
<div class="t" style="top:146.4px;font-size:11px;line-height:13.2px;left:892.5px;transform-origin:0 50%;transform:scaleX(0.695);background:#f0f0f0;padding:0 2px 0 1px;">Simulation</div>
<div class="gb" style="left:899px;top:172px;width:293px;height:28px;"></div>
<div class="t" style="top:165.4px;font-size:11px;line-height:13.2px;left:902.5px;transform-origin:0 50%;transform:scaleX(0.695);background:#f0f0f0;padding:0 2px 0 1px;">Model</div>
<div class="bt" style="left:911.5px;top:179.5px;width:108.0px;height:16.0px;"></div>
<div class="t" style="top:181.4px;font-size:11px;line-height:13.2px;color:#111;left:915.5px;transform-origin:0 50%;transform:scaleX(0.695);">Rigid</div>
<svg class="ov" width="7" height="4" viewBox="0 0 7 4" style="left:1007.5px;top:186.0px"><path d="M0 0H7L3.500 4Z" fill="#222"/></svg>
<div class="rd" style="left:1029.6px;top:182.2px;width:9.0px;height:11.5px;"><i></i></div>
<div class="t" style="top:181.9px;font-size:11px;line-height:13.2px;left:1041px;transform-origin:0 50%;transform:scaleX(0.695);">Johnson-Champoux</div>
<div class="rd" style="left:1116.6px;top:182.2px;width:9.0px;height:11.5px;"></div>
<div class="t" style="top:181.9px;font-size:11px;line-height:13.2px;left:1128px;transform-origin:0 50%;transform:scaleX(0.695);">Johnson-Lafarge</div>
<div class="gb" style="left:899px;top:213.5px;width:293px;height:51.5px;"></div>
<div class="t" style="top:206.9px;font-size:11px;line-height:13.2px;left:902.5px;transform-origin:0 50%;transform:scaleX(0.695);background:#f0f0f0;padding:0 2px 0 1px;">Solver</div>
<div class="rd" style="left:911.6px;top:223.2px;width:9.0px;height:11.5px;"><i></i></div>
<div class="t" style="top:222.9px;font-size:11px;line-height:13.2px;left:923px;transform-origin:0 50%;transform:scaleX(0.695);">Analytical</div>
<div class="rd" style="left:911.6px;top:243.2px;width:9.0px;height:11.5px;"></div>
<div class="t" style="top:242.9px;font-size:11px;line-height:13.2px;left:923px;transform-origin:0 50%;transform:scaleX(0.695);">Axisym Finite Element</div>
<div class="bt cbd" style="left:1007px;top:242px;width:108px;height:16px;"></div>
<div class="t" style="top:243.9px;font-size:11px;line-height:13.2px;color:#8a8a8a;left:1011px;transform-origin:0 50%;transform:scaleX(0.695);">Sliding</div>
<svg class="ov" width="7" height="4" viewBox="0 0 7 4" style="left:1103px;top:248.5px"><path d="M0 0H7L3.500 4Z" fill="#aaa"/></svg>
<div class="t" style="top:224.4px;font-size:11px;line-height:13.2px;left:1132px;transform-origin:0 50%;transform:scaleX(0.695);">% Leakage</div>
<div class="in dis" style="left:1130px;top:241px;width:47px;height:16px;"></div>
<div class="t" style="top:278.9px;font-size:11px;line-height:13.2px;left:900px;transform-origin:0 50%;transform:scaleX(0.695);"><u>S</u>tart (Hz)</div>
<div class="in" style="left:941px;top:277.5px;width:45.5px;height:15.5px;"></div>
<div class="t" style="top:279.1px;font-size:11px;line-height:13.2px;color:#111;right:276.5px;transform-origin:100% 50%;transform:scaleX(0.76);">200</div>
<div class="t" style="top:278.9px;font-size:11px;line-height:13.2px;left:998px;transform-origin:0 50%;transform:scaleX(0.695);"><u>E</u>nd (Hz)</div>
<div class="in" style="left:1035.5px;top:277.5px;width:45.0px;height:15.5px;"></div>
<div class="t" style="top:279.1px;font-size:11px;line-height:13.2px;color:#111;right:182.5px;transform-origin:100% 50%;transform:scaleX(0.76);">1900</div>
<div class="t" style="top:278.9px;font-size:11px;line-height:13.2px;left:1089px;transform-origin:0 50%;transform:scaleX(0.695);">S<u>t</u>ep (Hz)</div>
<div class="in" style="left:1127px;top:277.5px;width:45px;height:15.5px;"></div>
<div class="t" style="top:279.1px;font-size:11px;line-height:13.2px;color:#111;right:91px;transform-origin:100% 50%;transform:scaleX(0.76);">50</div>
<div class="bt" style="left:1185.5px;top:277.5px;width:50.5px;height:19.0px;"></div>
<div class="t" style="top:280.9px;font-size:11px;line-height:13.2px;left:1210.75px;transform:translateX(-50%) scaleX(0.7);">Run</div>
<div class="bt" style="left:898.5px;top:319px;width:16.5px;height:19px;"></div>
<div class="bt" style="left:898.5px;top:347px;width:16.5px;height:18.5px;"></div>
<div class="t" style="top:348.8px;font-size:12.5px;line-height:15.0px;color:#222;left:900.5px;transform-origin:0 50%;transform:scaleX(0.75);">P</div>
<div class="t" style="top:352.4px;font-size:9.8px;line-height:11.8px;color:#222;right:346.5px;transform-origin:100% 50%;transform:scaleX(0.7);">eq</div>
<div class="t" style="top:350.4px;font-size:11px;line-height:13.2px;left:919.5px;transform-origin:0 50%;transform:scaleX(0.678);">Normalized Dynamic Density</div>
<div class="bt" style="left:1035.5px;top:345.5px;width:17.0px;height:18.5px;"></div>
<div class="t" style="top:347.2px;font-size:12.5px;line-height:15.0px;color:#222;left:1037.5px;transform-origin:0 50%;transform:scaleX(0.75);">K</div>
<div class="t" style="top:350.9px;font-size:9.8px;line-height:11.8px;color:#222;right:209.0px;transform-origin:100% 50%;transform:scaleX(0.7);">eq</div>
<div class="t" style="top:350.4px;font-size:11px;line-height:13.2px;left:1057px;transform-origin:0 50%;transform:scaleX(0.678);">Normalized Dynamic Bulk Modulus</div>
<div class="bt" style="left:898.5px;top:374.5px;width:16.5px;height:19.0px;"></div>
<div class="t" style="top:377.0px;font-size:12.5px;line-height:15.0px;color:#222;left:906.75px;transform:translateX(-50%) scaleX(0.75);">Zc</div>
<div class="t" style="top:376.4px;font-size:11px;line-height:13.2px;left:919.5px;transform-origin:0 50%;transform:scaleX(0.678);">Characteristic Impedance</div>
<div class="bt" style="left:1035.5px;top:374.5px;width:17.0px;height:19.0px;"></div>
<div class="t" style="top:377.0px;font-size:12.5px;line-height:15.0px;color:#222;left:1044.0px;transform:translateX(-50%) scaleX(0.75);">k</div>
<div class="t" style="top:376.4px;font-size:11px;line-height:13.2px;left:1057px;transform-origin:0 50%;transform:scaleX(0.678);">Complex Wave Number</div>
<div class="bt" style="left:898.5px;top:402.5px;width:16.5px;height:19.0px;"></div>
<div class="t" style="top:405.0px;font-size:12.5px;line-height:15.0px;color:#222;left:906.75px;transform:translateX(-50%) scaleX(0.75);">TL</div>
<div class="t" style="top:404.9px;font-size:11px;line-height:13.2px;left:920.5px;transform-origin:0 50%;transform:scaleX(0.678);">Transmission Loss</div>
<div class="bt" style="left:1035.5px;top:402.5px;width:17.0px;height:19.0px;"><svg width="17" height="19" viewBox="0 0 17 19"><path d="M3.500 13L9.500 6H14L8 13Z" fill="#fff" stroke="#222" stroke-width="1.200"/><path d="M5.500 10.700H10" stroke="#222" stroke-width=".8"/></svg></div>
<div class="t" style="top:404.9px;font-size:11px;line-height:13.2px;left:1057px;transform-origin:0 50%;transform:scaleX(0.678);">Erase Graphs</div>
<div class="bt" style="left:898.5px;top:430.5px;width:16.5px;height:19.5px;"><svg width="17" height="19" viewBox="0 0 17 19"><rect x="3.500" y="3.500" width="6" height="9" fill="#e4e4e4" stroke="#555" stroke-width="1"/><path d="M5 6H8M5 8H8" stroke="#777" stroke-width=".7"/><path d="M7 8H11L14 11V16H7Z" fill="#c8d0f8" stroke="#3038b8" stroke-width="1"/><path d="M8.500 12H12M8.500 14H12" stroke="#3038b8" stroke-width=".7"/></svg></div>
<div class="t" style="top:431.9px;font-size:11px;line-height:13.2px;left:920.5px;transform-origin:0 50%;transform:scaleX(0.678);">Copy material to clipboard</div>
<div class="bt" style="left:1035.5px;top:430.5px;width:17.0px;height:19.5px;"><svg width="17" height="19" viewBox="0 0 17 19"><rect x="3.500" y="4" width="10.500" height="12" fill="#3a3a08"/><rect x="5.500" y="4" width="6" height="4.500" fill="#8a8a30"/><rect x="5" y="10.500" width="7.500" height="5.500" fill="#050505"/><rect x="10" y="11.500" width="1.500" height="3" fill="#bbb"/></svg></div>
<div class="t" style="top:431.9px;font-size:11px;line-height:13.2px;left:1057px;transform-origin:0 50%;transform:scaleX(0.678);">Save material to file</div>
<div class="gb" style="left:890px;top:479px;width:178px;height:74px;"></div>
<div class="t" style="top:472.4px;font-size:11px;line-height:13.2px;left:892.5px;transform-origin:0 50%;transform:scaleX(0.695);background:#f0f0f0;padding:0 2px 0 1px;">Elastic Properties</div>
<div class="t" style="top:489.4px;font-size:11px;line-height:13.2px;right:319px;transform-origin:100% 50%;transform:scaleX(0.695);">E (N/m²)</div>
<div class="t" style="top:489.4px;font-size:11px;line-height:13.2px;left:948px;transform-origin:0 50%;transform:scaleX(0.695);">Young Modulus</div>
<div class="in dis" style="left:1013px;top:488px;width:46px;height:16px;"></div>
<div class="t" style="top:489.9px;font-size:11px;line-height:13.2px;color:#333;right:204px;transform-origin:100% 50%;transform:scaleX(0.76);">0</div>
<div class="t" style="top:511.4px;font-size:11px;line-height:13.2px;right:319px;transform-origin:100% 50%;transform:scaleX(0.695);">ν</div>
<div class="t" style="top:511.4px;font-size:11px;line-height:13.2px;left:948px;transform-origin:0 50%;transform:scaleX(0.695);">Poisson Coeff.</div>
<div class="in dis" style="left:1013px;top:510px;width:46px;height:16px;"></div>
<div class="t" style="top:511.9px;font-size:11px;line-height:13.2px;color:#333;right:204px;transform-origin:100% 50%;transform:scaleX(0.76);">0</div>
<div class="t" style="top:533.4px;font-size:11px;line-height:13.2px;right:319px;transform-origin:100% 50%;transform:scaleX(0.695);">η</div>
<div class="t" style="top:533.4px;font-size:11px;line-height:13.2px;left:948px;transform-origin:0 50%;transform:scaleX(0.695);">Damping</div>
<div class="in dis" style="left:1013px;top:532px;width:46px;height:16px;"></div>
<div class="t" style="top:533.9px;font-size:11px;line-height:13.2px;color:#333;right:204px;transform-origin:100% 50%;transform:scaleX(0.76);">0</div>
<div class="bt" style="left:1139px;top:548px;width:50px;height:20px;"></div>
<div class="t" style="top:551.9px;font-size:11px;line-height:13.2px;left:1164.0px;transform:translateX(-50%) scaleX(0.7);">OK</div>
<div class="bt" style="left:1196px;top:548px;width:50px;height:20px;"></div>
<div class="t" style="top:551.9px;font-size:11px;line-height:13.2px;left:1221.0px;transform:translateX(-50%) scaleX(0.7);">Cancel</div>
</div>
<div style="left:14.8px;top:64.5px;width:163.2px;height:149.0px;border:3px solid #ff0000;border-radius:27px;box-sizing:border-box;"></div>
<div style="left:185.7px;top:65.7px;width:131.3px;height:57.3px;background:#ff0000;"></div>
<div class="t k" style="top:64.5px;font-size:25px;line-height:30.0px;color:#fff;left:251.35px;transform:translateX(-50%) scaleX(0.77);">Test</div>
<div class="t k" style="top:91.5px;font-size:25px;line-height:30.0px;color:#fff;left:251.35px;transform:translateX(-50%) scaleX(0.77);">environment</div>
<div style="left:14.5px;top:236px;width:304.5px;height:195px;border:3px solid #ff0000;border-radius:30px;box-sizing:border-box;"></div>
<div style="left:24px;top:433px;width:293px;height:71px;background:#ff0000;"></div>
<div class="t k" style="top:439.2px;font-size:23px;line-height:27.6px;color:#fff;left:170.5px;transform:translateX(-50%) scaleX(0.83);letter-spacing:-1.3px;font-weight:300;">Acoustic tube method</div>
<div class="t k" style="top:466.2px;font-size:23px;line-height:27.6px;color:#fff;left:170.5px;transform:translateX(-50%) scaleX(0.804);letter-spacing:-1.3px;font-weight:300;">measurement results by thickness</div>
<div style="left:326.5px;top:210px;width:351.0px;height:253.5px;border:3px solid #ff0000;border-radius:32px;box-sizing:border-box;"></div>
<div style="left:354px;top:471.5px;width:307px;height:42.5px;background:#ff0000;"></div>
<div class="t k" style="top:477.7px;font-size:23px;line-height:27.6px;color:#fff;left:507.5px;transform:translateX(-50%) scaleX(0.836);">Material acoustic properties</div>
<div style="left:699px;top:81.5px;width:184px;height:55.5px;background:#ff0000;"></div>
<div class="t k" style="top:81.7px;font-size:23px;line-height:27.6px;color:#fff;left:791.0px;transform:translateX(-50%) scaleX(0.842);">Material acoustic</div>
<div class="t k" style="top:108.7px;font-size:23px;line-height:27.6px;color:#fff;left:791.0px;transform:translateX(-50%) scaleX(0.815);">properties</div>
<div style="left:698.5px;top:138.5px;width:186.5px;height:192.5px;border:3px solid #ff0000;border-radius:27px;box-sizing:border-box;"></div>
<div style="left:698.5px;top:366px;width:186.5px;height:196.5px;border:3px solid #ff0000;border-radius:27px;box-sizing:border-box;"></div>
<div style="left:699px;top:578px;width:184px;height:55px;background:#ff0000;"></div>
<div class="t k" style="top:578.2px;font-size:23px;line-height:27.6px;color:#fff;left:791.0px;transform:translateX(-50%) scaleX(0.814);">Simulation</div>
<div class="t k" style="top:605.2px;font-size:23px;line-height:27.6px;color:#fff;left:791.0px;transform:translateX(-50%) scaleX(0.82);">environment</div>
<div style="left:892px;top:262.5px;width:288px;height:45.0px;border:3px solid #ff0000;border-radius:9px;box-sizing:border-box;"></div>
<div style="left:907px;top:314px;width:256.5px;height:28px;background:#ff0000;"></div>
<div class="t k" style="top:311.7px;font-size:23px;line-height:27.6px;color:#fff;left:1035.25px;transform:translateX(-50%) scaleX(0.84);">Frequency range setting</div>
<div style="left:135px;top:0px;width:354.5px;height:46.5px;background:#000;"></div>
<div class="t k" style="top:6.5px;font-size:25px;line-height:30.0px;color:#fff;left:312px;transform:translateX(-50%) scaleX(0.832);">Apply test measurement data</div>
<div style="left:712px;top:0px;width:520.5px;height:46.5px;background:#000;"></div>
<div class="t k" style="top:6.5px;font-size:25px;line-height:30.0px;color:#fff;left:972.5px;transform:translateX(-50%) scaleX(0.839);">Sound absorption coefficient simulation settings</div>
<svg class="ov" width="1260" height="800" viewBox="0 0 1260 800" style="left:0;top:0"><path d="M530 20.6H685.7V13.4L699.800 29.9L685.700 46.400V38.200H530Z" fill="#000"/><path d="M676.900 654.900H704.400V722.200H718.200L690.900 763L663.400 722.200H676.900Z" fill="#000"/></svg>
<div style="left:0px;top:810.3px;width:532.5px;height:60.700000000000045px;background:#92d050;"></div>
<div class="t k gs" style="top:808.8px;font-size:22px;line-height:26.4px;color:#1a1a1a;left:266px;transform:translateX(-50%) scaleX(1.003);">Sound absorption measurement results using the</div>
<div class="t k gs" style="top:838.8px;font-size:22px;line-height:26.4px;color:#1a1a1a;left:265px;transform:translateX(-50%) scaleX(1.005);">acoustic tube method</div>
<div style="left:662px;top:810.3px;width:530px;height:60.700000000000045px;background:#92d050;"></div>
<div class="t k gs" style="top:808.8px;font-size:22px;line-height:26.4px;color:#1a1a1a;left:927px;transform:translateX(-50%) scaleX(1.005);">Sound absorption performance value prediction</div>
<div class="t k gs" style="top:838.8px;font-size:22px;line-height:26.4px;color:#1a1a1a;left:927.5px;transform:translateX(-50%) scaleX(1.0);">results through simulation</div>
<div style="left:1198.5px;top:935.5px;width:61.5px;height:559.5px;background:#d9d9d9;"></div>
<div class="t k" style="left:1212.7px;top:1216px;font-size:26px;line-height:30px;color:#333;transform:translate(-50%,-50%) rotate(-90deg) scaleX(0.94);">Predicted sound absorption coefficient</div>
<div class="t k" style="left:1241px;top:1209.5px;font-size:26px;line-height:30px;color:#333;transform:translate(-50%,-50%) rotate(-90deg) scaleX(0.897);">according to thickness</div>
<svg class="ov" width="1260" height="734" viewBox="0 820 1260 734" style="left:0;top:820px" font-family="Liberation Sans, sans-serif" font-size="16" fill="#2a2a2a">
<rect x="82.75" y="935.25" width="1104.5" height="563.500" fill="#fff" stroke="#000" stroke-width="1.5"/>
<svg x="83" y="935.5" width="1104" height="563" viewBox="83 935.5 1104 563">
<polyline points="90.4,1492.1 96.4,1492.2 102.4,1491.7 108.4,1491.9 114.4,1492.1 120.4,1492.0 126.4,1491.1 132.4,1490.9 138.4,1490.6 144.4,1490.7 150.4,1490.0 156.4,1489.9 162.4,1489.2 168.4,1487.8 174.4,1487.3 180.4,1486.4 186.4,1485.0 192.4,1484.7 198.4,1483.6 204.4,1482.9 210.4,1482.0 216.4,1481.6 222.4,1480.6 228.4,1479.5 234.4,1479.1 240.4,1478.5 246.4,1477.3 252.4,1476.4 258.4,1475.8 264.4,1475.6 270.4,1474.8 276.4,1473.8 282.4,1473.2 288.4,1472.4 294.4,1471.2 300.4,1470.2 306.4,1469.9 312.4,1469.1 318.4,1468.1 324.4,1467.2 330.4,1466.5 336.4,1465.8 342.4,1464.7 348.4,1463.8 354.4,1463.1 360.4,1462.5 366.4,1461.3 372.4,1460.0 378.4,1459.1 384.4,1458.5 390.4,1457.5 396.4,1456.8 402.4,1456.4 408.4,1455.4 414.4,1455.1 420.4,1454.4 426.4,1454.2 432.4,1453.7 438.4,1453.1 444.4,1452.5 450.4,1451.7 456.4,1451.5 462.4,1450.6 468.4,1450.4 474.4,1449.6 480.4,1449.3 486.4,1448.4 492.4,1448.1 498.4,1448.4 504.4,1447.1 510.4,1447.1 516.4,1446.6 522.4,1446.2 528.4,1445.4 534.4,1445.0 540.4,1444.0 546.4,1443.5 552.4,1443.1 558.4,1442.6 564.4,1442.0 570.4,1441.6 576.4,1441.5 582.4,1440.7 588.4,1440.9 594.4,1440.2 600.4,1439.6 606.4,1439.3 612.4,1438.3 618.4,1438.5 624.4,1438.0 630.4,1437.4 636.4,1436.6 642.4,1436.5 648.4,1436.0 654.4,1435.4 660.4,1435.2 666.4,1434.4 672.4,1433.7 678.4,1433.4 684.4,1432.5 690.4,1432.1 696.4,1432.1 702.4,1431.7 708.4,1431.4 714.4,1430.8 720.4,1430.0 726.4,1429.1 732.4,1429.0 738.4,1428.9 744.4,1428.3 750.4,1427.5 756.4,1427.0 762.4,1426.3 768.4,1425.8 774.4,1425.2 780.4,1425.6 786.4,1424.8 792.4,1423.8 798.4,1423.6 804.4,1422.8 810.4,1422.5 816.4,1422.5 822.4,1421.9 828.4,1421.3 834.4,1420.6 840.4,1420.4 846.4,1420.2 852.4,1419.2 858.4,1418.4 864.4,1417.8 870.4,1417.3 876.4,1417.7 882.4,1416.8 888.4,1416.6 894.4,1415.4 900.4,1414.9 906.4,1414.8 912.4,1414.5 918.4,1413.4 924.4,1412.6 930.4,1412.9 936.4,1411.8 942.4,1411.7 948.4,1410.6 954.4,1410.6 960.4,1410.2 966.4,1409.5 972.4,1408.6 978.4,1408.4 984.4,1407.3 990.4,1406.9 996.4,1406.4 1002.4,1406.3 1008.4,1405.1 1014.4,1405.2 1020.4,1404.6 1026.4,1404.2 1032.4,1403.0 1038.4,1402.3 1044.4,1401.8 1050.4,1401.8 1056.4,1401.4 1062.4,1400.5 1068.4,1399.8 1074.4,1399.0 1080.4,1399.0 1086.4,1398.4 1092.4,1397.1 1098.4,1396.6 1104.4,1396.6 1110.4,1396.1 1116.4,1395.0 1122.4,1394.3 1128.4,1393.9 1134.4,1393.4 1140.4,1392.4 1146.4,1392.5 1152.4,1391.6 1158.4,1391.3 1164.4,1390.1 1170.4,1390.3 1176.4,1389.5 1182.4,1388.5" fill="none" stroke="#ff0000" stroke-width="1.25" stroke-linejoin="round"/>
<polyline points="90.4,1492.4 96.4,1492.1 102.4,1492.1 108.4,1491.1 114.4,1490.7 120.4,1491.0 126.4,1490.1 132.4,1489.8 138.4,1488.8 144.4,1489.1 150.4,1488.0 156.4,1487.5 162.4,1485.7 168.4,1484.8 174.4,1483.2 180.4,1482.7 186.4,1480.9 192.4,1479.1 198.4,1477.6 204.4,1476.4 210.4,1474.4 216.4,1472.9 222.4,1471.5 228.4,1470.0 234.4,1468.6 240.4,1467.2 246.4,1465.6 252.4,1464.6 258.4,1463.0 264.4,1462.0 270.4,1461.5 276.4,1459.8 282.4,1458.8 288.4,1457.9 294.4,1457.1 300.4,1455.7 306.4,1454.8 312.4,1454.3 318.4,1453.0 324.4,1452.6 330.4,1451.7 336.4,1450.5 342.4,1449.6 348.4,1448.2 354.4,1446.8 360.4,1446.1 366.4,1445.0 372.4,1444.1 378.4,1442.6 384.4,1441.7 390.4,1441.2 396.4,1439.7 402.4,1438.9 408.4,1438.4 414.4,1436.8 420.4,1435.7 426.4,1435.4 432.4,1434.3 438.4,1433.4 444.4,1431.9 450.4,1431.4 456.4,1430.1 462.4,1429.4 468.4,1429.0 474.4,1427.4 480.4,1426.8 486.4,1426.6 492.4,1425.7 498.4,1424.3 504.4,1423.6 510.4,1422.6 516.4,1421.6 522.4,1421.1 528.4,1419.5 534.4,1419.3 540.4,1417.6 546.4,1417.5 552.4,1416.4 558.4,1415.3 564.4,1414.6 570.4,1413.5 576.4,1413.0 582.4,1411.4 588.4,1410.9 594.4,1410.4 600.4,1409.6 606.4,1408.0 612.4,1407.1 618.4,1406.9 624.4,1405.5 630.4,1404.3 636.4,1404.1 642.4,1402.9 648.4,1402.4 654.4,1401.3 660.4,1400.4 666.4,1399.5 672.4,1398.5 678.4,1398.3 684.4,1397.2 690.4,1396.5 696.4,1395.7 702.4,1394.2 708.4,1394.1 714.4,1393.2 720.4,1392.0 726.4,1391.3 732.4,1390.1 738.4,1389.9 744.4,1388.5 750.4,1388.1 756.4,1386.9 762.4,1386.1 768.4,1385.9 774.4,1385.0 780.4,1384.4 786.4,1383.8 792.4,1383.2 798.4,1381.5 804.4,1381.3 810.4,1380.4 816.4,1379.7 822.4,1378.8 828.4,1378.0 834.4,1377.5 840.4,1376.2 846.4,1375.5 852.4,1374.8 858.4,1373.3 864.4,1372.8 870.4,1371.5 876.4,1370.7 882.4,1369.6 888.4,1368.9 894.4,1367.9 900.4,1367.2 906.4,1366.3 912.4,1365.5 918.4,1364.2 924.4,1363.6 930.4,1362.0 936.4,1361.3 942.4,1360.1 948.4,1359.1 954.4,1357.7 960.4,1357.3 966.4,1356.1 972.4,1354.4 978.4,1353.8 984.4,1353.2 990.4,1351.2 996.4,1350.4 1002.4,1349.8 1008.4,1348.0 1014.4,1347.7 1020.4,1346.5 1026.4,1345.7 1032.4,1344.5 1038.4,1343.9 1044.4,1342.3 1050.4,1341.5 1056.4,1340.0 1062.4,1339.5 1068.4,1338.4 1074.4,1337.9 1080.4,1336.9 1086.4,1335.1 1092.4,1334.0 1098.4,1333.1 1104.4,1332.2 1110.4,1331.7 1116.4,1330.5 1122.4,1329.6 1128.4,1328.5 1134.4,1327.0 1140.4,1326.4 1146.4,1326.1 1152.4,1324.9 1158.4,1323.7 1164.4,1322.3 1170.4,1322.1 1176.4,1320.6 1182.4,1319.8" fill="none" stroke="#0000ff" stroke-width="1.25" stroke-linejoin="round"/>
<polyline points="90.4,1491.7 96.4,1491.7 102.4,1491.4 108.4,1491.0 114.4,1490.0 120.4,1489.9 126.4,1488.6 132.4,1488.1 138.4,1487.1 144.4,1486.2 150.4,1484.7 156.4,1483.4 162.4,1482.2 168.4,1479.9 174.4,1477.8 180.4,1476.7 186.4,1473.9 192.4,1472.8 198.4,1470.1 204.4,1468.1 210.4,1466.6 216.4,1463.9 222.4,1462.1 228.4,1459.8 234.4,1458.3 240.4,1456.2 246.4,1454.2 252.4,1452.1 258.4,1450.8 264.4,1449.4 270.4,1447.7 276.4,1446.5 282.4,1444.8 288.4,1443.7 294.4,1442.4 300.4,1441.2 306.4,1440.0 312.4,1438.6 318.4,1437.0 324.4,1435.7 330.4,1434.8 336.4,1433.0 342.4,1432.0 348.4,1430.9 354.4,1429.5 360.4,1427.7 366.4,1426.1 372.4,1425.1 378.4,1423.8 384.4,1422.3 390.4,1420.8 396.4,1419.5 402.4,1417.7 408.4,1416.6 414.4,1415.0 420.4,1414.1 426.4,1413.0 432.4,1410.8 438.4,1409.3 444.4,1408.6 450.4,1406.8 456.4,1405.5 462.4,1403.7 468.4,1402.4 474.4,1401.5 480.4,1400.0 486.4,1398.9 492.4,1397.6 498.4,1395.6 504.4,1394.5 510.4,1392.9 516.4,1391.6 522.4,1390.1 528.4,1389.3 534.4,1387.6 540.4,1385.8 546.4,1385.0 552.4,1384.0 558.4,1382.6 564.4,1380.9 570.4,1379.1 576.4,1378.6 582.4,1377.4 588.4,1375.9 594.4,1374.3 600.4,1373.0 606.4,1372.1 612.4,1370.1 618.4,1369.5 624.4,1368.0 630.4,1366.2 636.4,1365.7 642.4,1364.0 648.4,1362.4 654.4,1361.2 660.4,1360.6 666.4,1358.6 672.4,1357.9 678.4,1356.6 684.4,1354.6 690.4,1353.6 696.4,1352.6 702.4,1351.0 708.4,1350.0 714.4,1348.2 720.4,1347.1 726.4,1345.3 732.4,1344.6 738.4,1343.2 744.4,1341.6 750.4,1340.0 756.4,1338.6 762.4,1337.5 768.4,1335.7 774.4,1334.7 780.4,1333.1 786.4,1331.7 792.4,1330.3 798.4,1329.5 804.4,1327.4 810.4,1326.1 816.4,1324.6 822.4,1323.1 828.4,1322.1 834.4,1321.1 840.4,1319.8 846.4,1318.0 852.4,1316.5 858.4,1315.6 864.4,1313.8 870.4,1312.5 876.4,1311.2 882.4,1309.2 888.4,1308.5 894.4,1306.4 900.4,1305.4 906.4,1304.4 912.4,1302.6 918.4,1300.9 924.4,1299.9 930.4,1298.6 936.4,1296.9 942.4,1294.9 948.4,1294.3 954.4,1292.0 960.4,1291.2 966.4,1290.0 972.4,1287.8 978.4,1286.8 984.4,1285.5 990.4,1283.6 996.4,1282.2 1002.4,1280.6 1008.4,1279.3 1014.4,1277.9 1020.4,1276.6 1026.4,1275.7 1032.4,1274.2 1038.4,1272.9 1044.4,1271.4 1050.4,1270.1 1056.4,1268.1 1062.4,1267.1 1068.4,1265.2 1074.4,1264.2 1080.4,1263.2 1086.4,1261.4 1092.4,1259.9 1098.4,1258.5 1104.4,1257.2 1110.4,1256.3 1116.4,1255.0 1122.4,1253.4 1128.4,1252.3 1134.4,1250.7 1140.4,1248.8 1146.4,1247.6 1152.4,1246.5 1158.4,1245.1 1164.4,1243.7 1170.4,1242.2 1176.4,1240.5 1182.4,1239.9" fill="none" stroke="#008000" stroke-width="1.25" stroke-linejoin="round"/>
<polyline points="90.4,1491.7 96.4,1491.9 102.4,1490.3 108.4,1490.2 114.4,1488.6 120.4,1487.9 126.4,1485.9 132.4,1485.1 138.4,1483.5 144.4,1482.5 150.4,1481.1 156.4,1479.2 162.4,1477.6 168.4,1475.8 174.4,1472.8 180.4,1471.0 186.4,1468.7 192.4,1466.0 198.4,1462.9 204.4,1460.7 210.4,1457.2 216.4,1454.9 222.4,1451.6 228.4,1448.5 234.4,1446.4 240.4,1443.1 246.4,1441.4 252.4,1438.9 258.4,1437.1 264.4,1435.0 270.4,1432.6 276.4,1430.4 282.4,1428.7 288.4,1426.6 294.4,1425.5 300.4,1423.1 306.4,1421.5 312.4,1419.8 318.4,1418.2 324.4,1416.7 330.4,1414.6 336.4,1412.8 342.4,1410.5 348.4,1408.9 354.4,1406.8 360.4,1405.4 366.4,1402.7 372.4,1401.4 378.4,1399.5 384.4,1397.4 390.4,1395.0 396.4,1393.3 402.4,1391.4 408.4,1389.5 414.4,1387.6 420.4,1386.4 426.4,1384.4 432.4,1382.6 438.4,1380.5 444.4,1378.3 450.4,1377.0 456.4,1374.6 462.4,1372.5 468.4,1371.1 474.4,1368.8 480.4,1367.5 486.4,1365.5 492.4,1363.2 498.4,1361.5 504.4,1359.9 510.4,1358.0 516.4,1356.0 522.4,1353.9 528.4,1352.1 534.4,1350.6 540.4,1348.5 546.4,1347.0 552.4,1345.1 558.4,1342.9 564.4,1340.8 570.4,1339.6 576.4,1337.4 582.4,1335.8 588.4,1333.5 594.4,1331.7 600.4,1330.1 606.4,1328.6 612.4,1326.2 618.4,1325.0 624.4,1323.3 630.4,1321.3 636.4,1319.5 642.4,1317.2 648.4,1315.2 654.4,1313.6 660.4,1311.6 666.4,1310.1 672.4,1308.6 678.4,1306.3 684.4,1305.1 690.4,1302.9 696.4,1300.8 702.4,1299.4 708.4,1297.4 714.4,1295.5 720.4,1293.9 726.4,1292.5 732.4,1290.5 738.4,1288.2 744.4,1287.0 750.4,1284.5 756.4,1282.9 762.4,1281.0 768.4,1279.8 774.4,1277.0 780.4,1275.9 786.4,1273.9 792.4,1271.8 798.4,1270.5 804.4,1268.8 810.4,1267.0 816.4,1264.5 822.4,1263.4 828.4,1261.2 834.4,1259.9 840.4,1257.8 846.4,1255.6 852.4,1254.5 858.4,1252.5 864.4,1250.6 870.4,1249.0 876.4,1247.1 882.4,1244.9 888.4,1244.0 894.4,1241.6 900.4,1239.9 906.4,1237.9 912.4,1236.8 918.4,1235.2 924.4,1233.0 930.4,1231.7 936.4,1229.4 942.4,1227.7 948.4,1225.9 954.4,1224.2 960.4,1222.7 966.4,1220.7 972.4,1218.7 978.4,1217.6 984.4,1215.5 990.4,1213.9 996.4,1211.9 1002.4,1210.1 1008.4,1208.9 1014.4,1207.0 1020.4,1205.7 1026.4,1203.1 1032.4,1202.1 1038.4,1199.6 1044.4,1198.0 1050.4,1196.1 1056.4,1194.9 1062.4,1193.0 1068.4,1191.2 1074.4,1190.1 1080.4,1188.0 1086.4,1186.6 1092.4,1184.8 1098.4,1182.5 1104.4,1181.1 1110.4,1178.9 1116.4,1177.4 1122.4,1175.9 1128.4,1174.1 1134.4,1171.9 1140.4,1170.1 1146.4,1169.1 1152.4,1167.3 1158.4,1165.5 1164.4,1163.3 1170.4,1162.2 1176.4,1160.2 1182.4,1158.1" fill="none" stroke="#800080" stroke-width="1.25" stroke-linejoin="round"/>
<polyline points="90.4,1491.7 96.4,1491.1 102.4,1490.2 108.4,1488.4 114.4,1486.7 120.4,1485.5 126.4,1483.3 132.4,1482.0 138.4,1479.9 144.4,1477.6 150.4,1476.1 156.4,1473.9 162.4,1471.9 168.4,1469.2 174.4,1466.1 180.4,1463.6 186.4,1460.2 192.4,1457.5 198.4,1454.2 204.4,1450.9 210.4,1447.0 216.4,1444.2 222.4,1440.6 228.4,1437.5 234.4,1433.5 240.4,1431.0 246.4,1428.2 252.4,1425.0 258.4,1421.7 264.4,1419.8 270.4,1416.8 276.4,1413.9 282.4,1411.7 288.4,1409.4 294.4,1406.2 300.4,1404.2 306.4,1401.8 312.4,1399.7 318.4,1396.4 324.4,1394.4 330.4,1392.2 336.4,1389.6 342.4,1387.4 348.4,1384.7 354.4,1382.2 360.4,1379.7 366.4,1376.8 372.4,1375.0 378.4,1372.3 384.4,1369.4 390.4,1367.8 396.4,1365.2 402.4,1362.8 408.4,1359.9 414.4,1358.2 420.4,1355.5 426.4,1353.6 432.4,1350.6 438.4,1348.5 444.4,1346.0 450.4,1343.6 456.4,1341.6 462.4,1339.7 468.4,1337.1 474.4,1334.7 480.4,1333.0 486.4,1330.5 492.4,1328.4 498.4,1325.4 504.4,1323.0 510.4,1321.4 516.4,1318.2 522.4,1316.6 528.4,1314.4 534.4,1311.8 540.4,1309.2 546.4,1306.6 552.4,1304.1 558.4,1301.5 564.4,1299.4 570.4,1297.0 576.4,1294.3 582.4,1292.6 588.4,1290.1 594.4,1287.0 600.4,1284.8 606.4,1282.6 612.4,1279.8 618.4,1277.1 624.4,1275.2 630.4,1272.4 636.4,1270.1 642.4,1267.8 648.4,1264.9 654.4,1262.9 660.4,1260.0 666.4,1258.0 672.4,1255.3 678.4,1253.5 684.4,1250.7 690.4,1249.0 696.4,1245.9 702.4,1244.2 708.4,1242.1 714.4,1239.9 720.4,1237.3 726.4,1235.1 732.4,1232.7 738.4,1231.0 744.4,1228.8 750.4,1226.3 756.4,1224.2 762.4,1222.4 768.4,1219.9 774.4,1217.3 780.4,1215.2 786.4,1213.8 792.4,1211.4 798.4,1209.3 804.4,1207.1 810.4,1204.6 816.4,1203.3 822.4,1200.9 828.4,1198.9 834.4,1196.8 840.4,1194.5 846.4,1193.3 852.4,1191.2 858.4,1188.3 864.4,1186.3 870.4,1184.7 876.4,1183.3 882.4,1180.8 888.4,1179.3 894.4,1176.7 900.4,1175.0 906.4,1173.4 912.4,1171.3 918.4,1169.0 924.4,1167.3 930.4,1165.5 936.4,1163.4 942.4,1161.4 948.4,1159.5 954.4,1158.2 960.4,1155.8 966.4,1153.9 972.4,1152.1 978.4,1151.0 984.4,1149.1 990.4,1146.8 996.4,1144.6 1002.4,1143.0 1008.4,1141.6 1014.4,1139.4 1020.4,1137.9 1026.4,1136.0 1032.4,1134.1 1038.4,1132.3 1044.4,1130.1 1050.4,1127.9 1056.4,1126.7 1062.4,1125.0 1068.4,1122.8 1074.4,1120.6 1080.4,1119.4 1086.4,1117.6 1092.4,1115.7 1098.4,1113.7 1104.4,1112.1 1110.4,1109.6 1116.4,1108.1 1122.4,1106.7 1128.4,1104.8 1134.4,1102.8 1140.4,1100.8 1146.4,1099.0 1152.4,1097.0 1158.4,1095.0 1164.4,1093.8 1170.4,1091.7 1176.4,1089.7 1182.4,1087.9" fill="none" stroke="#99ccff" stroke-width="1.25" stroke-linejoin="round"/>
<polyline points="90.4,1491.7 96.4,1490.2 102.4,1489.0 108.4,1486.8 114.4,1484.9 120.4,1483.4 126.4,1480.4 132.4,1479.0 138.4,1476.1 144.4,1474.1 150.4,1471.6 156.4,1468.7 162.4,1465.1 168.4,1462.5 174.4,1459.1 180.4,1455.6 186.4,1452.3 192.4,1448.8 198.4,1444.7 204.4,1440.9 210.4,1436.9 216.4,1432.9 222.4,1429.4 228.4,1425.9 234.4,1421.2 240.4,1418.0 246.4,1414.2 252.4,1410.8 258.4,1406.9 264.4,1403.4 270.4,1400.0 276.4,1397.2 282.4,1393.9 288.4,1390.5 294.4,1386.7 300.4,1383.5 306.4,1380.2 312.4,1377.3 318.4,1373.6 324.4,1370.9 330.4,1367.8 336.4,1364.3 342.4,1360.7 348.4,1357.6 354.4,1354.7 360.4,1351.6 366.4,1347.9 372.4,1345.2 378.4,1342.4 384.4,1339.1 390.4,1336.2 396.4,1333.2 402.4,1329.5 408.4,1326.4 414.4,1324.1 420.4,1320.6 426.4,1317.3 432.4,1314.8 438.4,1311.7 444.4,1308.5 450.4,1306.3 456.4,1302.9 462.4,1300.5 468.4,1296.8 474.4,1293.7 480.4,1291.6 486.4,1288.1 492.4,1285.9 498.4,1282.5 504.4,1279.9 510.4,1276.4 516.4,1273.7 522.4,1271.2 528.4,1268.6 534.4,1265.6 540.4,1262.8 546.4,1259.8 552.4,1257.0 558.4,1253.4 564.4,1250.3 570.4,1247.5 576.4,1244.9 582.4,1241.8 588.4,1238.5 594.4,1235.7 600.4,1232.9 606.4,1230.1 612.4,1227.2 618.4,1224.5 624.4,1221.8 630.4,1219.1 636.4,1215.8 642.4,1213.6 648.4,1210.3 654.4,1207.6 660.4,1204.9 666.4,1202.5 672.4,1199.9 678.4,1197.0 684.4,1194.3 690.4,1191.6 696.4,1189.3 702.4,1186.7 708.4,1184.6 714.4,1182.1 720.4,1180.2 726.4,1178.0 732.4,1175.5 738.4,1173.3 744.4,1170.9 750.4,1169.4 756.4,1167.3 762.4,1164.8 768.4,1162.8 774.4,1160.3 780.4,1158.4 786.4,1156.1 792.4,1154.6 798.4,1152.2 804.4,1150.5 810.4,1148.2 816.4,1145.6 822.4,1143.8 828.4,1142.1 834.4,1140.4 840.4,1138.1 846.4,1135.8 852.4,1134.1 858.4,1132.1 864.4,1130.4 870.4,1128.0 876.4,1125.3 882.4,1124.3 888.4,1121.4 894.4,1119.6 900.4,1118.1 906.4,1115.8 912.4,1113.8 918.4,1111.5 924.4,1109.5 930.4,1107.4 936.4,1105.8 942.4,1103.4 948.4,1101.2 954.4,1099.3 960.4,1097.3 966.4,1096.1 972.4,1093.5 978.4,1091.6 984.4,1090.1 990.4,1087.8 996.4,1086.5 1002.4,1084.5 1008.4,1082.5 1014.4,1080.6 1020.4,1078.7 1026.4,1076.9 1032.4,1075.4 1038.4,1073.0 1044.4,1071.4 1050.4,1070.1 1056.4,1068.4 1062.4,1066.5 1068.4,1064.5 1074.4,1062.7 1080.4,1061.3 1086.4,1059.4 1092.4,1058.2 1098.4,1056.5 1104.4,1054.8 1110.4,1053.1 1116.4,1051.7 1122.4,1049.7 1128.4,1047.8 1134.4,1046.2 1140.4,1044.5 1146.4,1043.4 1152.4,1042.0 1158.4,1040.3 1164.4,1038.3 1170.4,1037.3 1176.4,1035.8 1182.4,1033.9" fill="none" stroke="#000000" stroke-width="1.25" stroke-linejoin="round"/>
<polyline points="90.4,1492.0 96.4,1489.3 102.4,1487.3 108.4,1484.2 114.4,1481.8 120.4,1479.5 126.4,1476.5 132.4,1473.2 138.4,1470.8 144.4,1467.4 150.4,1464.5 156.4,1460.8 162.4,1457.5 168.4,1453.8 174.4,1449.4 180.4,1445.6 186.4,1441.5 192.4,1437.4 198.4,1433.8 204.4,1429.1 210.4,1424.7 216.4,1420.4 222.4,1415.1 228.4,1411.2 234.4,1406.5 240.4,1401.9 246.4,1398.0 252.4,1393.8 258.4,1389.4 264.4,1385.4 270.4,1381.4 276.4,1376.7 282.4,1373.1 288.4,1368.6 294.4,1365.0 300.4,1360.7 306.4,1356.6 312.4,1353.0 318.4,1348.5 324.4,1344.3 330.4,1340.7 336.4,1336.7 342.4,1333.4 348.4,1328.9 354.4,1325.6 360.4,1321.8 366.4,1317.7 372.4,1314.6 378.4,1310.9 384.4,1307.2 390.4,1304.2 396.4,1299.9 402.4,1296.9 408.4,1293.1 414.4,1289.9 420.4,1286.3 426.4,1283.2 432.4,1280.1 438.4,1275.9 444.4,1272.9 450.4,1269.8 456.4,1266.1 462.4,1262.8 468.4,1260.1 474.4,1256.0 480.4,1253.2 486.4,1250.1 492.4,1246.8 498.4,1242.9 504.4,1240.6 510.4,1236.4 516.4,1233.2 522.4,1230.5 528.4,1226.8 534.4,1223.9 540.4,1221.1 546.4,1217.6 552.4,1214.4 558.4,1211.5 564.4,1207.4 570.4,1205.0 576.4,1201.4 582.4,1198.2 588.4,1194.2 594.4,1191.8 600.4,1188.1 606.4,1184.9 612.4,1181.9 618.4,1178.5 624.4,1175.9 630.4,1172.7 636.4,1169.1 642.4,1165.9 648.4,1163.0 654.4,1160.7 660.4,1157.0 666.4,1154.3 672.4,1151.2 678.4,1148.7 684.4,1146.5 690.4,1143.3 696.4,1140.3 702.4,1138.4 708.4,1136.0 714.4,1133.1 720.4,1130.5 726.4,1128.4 732.4,1126.4 738.4,1123.8 744.4,1121.1 750.4,1119.5 756.4,1116.8 762.4,1114.9 768.4,1112.6 774.4,1110.2 780.4,1108.3 786.4,1106.0 792.4,1104.2 798.4,1101.7 804.4,1100.5 810.4,1098.3 816.4,1096.2 822.4,1093.7 828.4,1092.4 834.4,1090.5 840.4,1087.7 846.4,1085.9 852.4,1083.8 858.4,1082.0 864.4,1080.6 870.4,1078.9 876.4,1076.5 882.4,1074.5 888.4,1072.9 894.4,1071.2 900.4,1069.0 906.4,1067.1 912.4,1065.2 918.4,1063.4 924.4,1061.6 930.4,1059.5 936.4,1058.5 942.4,1056.4 948.4,1054.8 954.4,1052.8 960.4,1051.4 966.4,1049.2 972.4,1048.1 978.4,1046.6 984.4,1044.1 990.4,1042.7 996.4,1040.7 1002.4,1039.8 1008.4,1038.0 1014.4,1035.9 1020.4,1035.2 1026.4,1033.6 1032.4,1031.4 1038.4,1030.3 1044.4,1028.1 1050.4,1027.2 1056.4,1025.3 1062.4,1023.5 1068.4,1022.3 1074.4,1021.0 1080.4,1019.1 1086.4,1018.4 1092.4,1016.5 1098.4,1015.2 1104.4,1014.2 1110.4,1012.7 1116.4,1011.1 1122.4,1009.7 1128.4,1008.5 1134.4,1006.9 1140.4,1005.5 1146.4,1004.4 1152.4,1002.3 1158.4,1001.9 1164.4,999.8 1170.4,998.5 1176.4,997.6 1182.4,996.3" fill="none" stroke="#ff0000" stroke-width="1.25" stroke-linejoin="round"/>
<polyline points="90.4,1492.0 96.4,1489.3 102.4,1485.2 108.4,1482.0 114.4,1478.5 120.4,1475.3 126.4,1471.4 132.4,1467.9 138.4,1463.9 144.4,1459.5 150.4,1456.3 156.4,1451.9 162.4,1447.5 168.4,1442.8 174.4,1438.8 180.4,1433.9 186.4,1428.5 192.4,1423.8 198.4,1419.3 204.4,1413.4 210.4,1408.1 216.4,1402.8 222.4,1397.6 228.4,1392.3 234.4,1387.6 240.4,1382.9 246.4,1378.0 252.4,1373.1 258.4,1367.6 264.4,1363.0 270.4,1357.4 276.4,1353.2 282.4,1347.8 288.4,1343.3 294.4,1338.1 300.4,1333.5 306.4,1328.7 312.4,1324.3 318.4,1319.5 324.4,1315.0 330.4,1311.1 336.4,1307.2 342.4,1302.9 348.4,1299.8 354.4,1295.8 360.4,1292.4 366.4,1289.1 372.4,1286.4 378.4,1282.4 384.4,1279.4 390.4,1275.8 396.4,1272.6 402.4,1268.0 408.4,1265.2 414.4,1260.7 420.4,1257.3 426.4,1252.8 432.4,1249.4 438.4,1245.1 444.4,1241.0 450.4,1237.0 456.4,1233.0 462.4,1229.7 468.4,1225.3 474.4,1221.2 480.4,1217.8 486.4,1213.6 492.4,1209.9 498.4,1205.6 504.4,1201.8 510.4,1198.0 516.4,1194.5 522.4,1191.0 528.4,1187.8 534.4,1184.1 540.4,1180.6 546.4,1177.0 552.4,1173.8 558.4,1170.5 564.4,1166.7 570.4,1163.9 576.4,1160.7 582.4,1156.9 588.4,1153.3 594.4,1150.7 600.4,1146.5 606.4,1143.3 612.4,1140.7 618.4,1137.5 624.4,1134.0 630.4,1130.6 636.4,1128.0 642.4,1124.7 648.4,1122.3 654.4,1118.6 660.4,1116.2 666.4,1113.0 672.4,1111.1 678.4,1108.4 684.4,1105.4 690.4,1103.0 696.4,1100.7 702.4,1098.3 708.4,1095.2 714.4,1093.1 720.4,1091.3 726.4,1088.6 732.4,1086.6 738.4,1085.0 744.4,1082.4 750.4,1080.4 756.4,1078.0 762.4,1076.0 768.4,1074.8 774.4,1072.7 780.4,1070.1 786.4,1069.0 792.4,1067.1 798.4,1064.7 804.4,1063.4 810.4,1060.9 816.4,1059.2 822.4,1058.0 828.4,1055.9 834.4,1054.0 840.4,1052.1 846.4,1050.3 852.4,1048.5 858.4,1047.0 864.4,1045.3 870.4,1043.2 876.4,1042.1 882.4,1039.7 888.4,1038.0 894.4,1037.0 900.4,1034.8 906.4,1032.8 912.4,1031.4 918.4,1029.5 924.4,1027.7 930.4,1026.9 936.4,1024.4 942.4,1023.4 948.4,1021.5 954.4,1019.7 960.4,1018.7 966.4,1016.8 972.4,1014.8 978.4,1013.6 984.4,1012.3 990.4,1010.6 996.4,1009.0 1002.4,1007.6 1008.4,1006.2 1014.4,1005.0 1020.4,1004.1 1026.4,1002.7 1032.4,1001.0 1038.4,1000.0 1044.4,998.0 1050.4,997.2 1056.4,996.1 1062.4,994.3 1068.4,993.3 1074.4,992.0 1080.4,990.4 1086.4,990.0 1092.4,988.2 1098.4,987.3 1104.4,985.5 1110.4,984.9 1116.4,983.7 1122.4,983.0 1128.4,981.1 1134.4,980.8 1140.4,979.0 1146.4,978.6 1152.4,977.5 1158.4,976.3 1164.4,975.1 1170.4,974.2 1176.4,973.5 1182.4,972.2" fill="none" stroke="#0000ff" stroke-width="1.25" stroke-linejoin="round"/>
<polyline points="90.4,1491.6 96.4,1488.3 102.4,1484.2 108.4,1479.6 114.4,1475.3 120.4,1471.6 126.4,1466.6 132.4,1461.7 138.4,1457.9 144.4,1452.6 150.4,1448.0 156.4,1443.3 162.4,1438.1 168.4,1432.6 174.4,1427.3 180.4,1422.0 186.4,1415.9 192.4,1410.8 198.4,1404.2 204.4,1398.0 210.4,1391.9 216.4,1385.8 222.4,1380.4 228.4,1373.8 234.4,1368.1 240.4,1362.3 246.4,1355.9 252.4,1350.9 258.4,1345.7 264.4,1339.8 270.4,1335.3 276.4,1329.7 282.4,1324.5 288.4,1319.9 294.4,1314.0 300.4,1309.8 306.4,1304.1 312.4,1299.5 318.4,1294.1 324.4,1289.4 330.4,1284.4 336.4,1280.0 342.4,1275.3 348.4,1269.5 354.4,1264.4 360.4,1260.0 366.4,1255.4 372.4,1250.6 378.4,1245.8 384.4,1241.1 390.4,1236.6 396.4,1231.8 402.4,1228.6 408.4,1224.2 414.4,1220.1 420.4,1215.8 426.4,1212.0 432.4,1208.4 438.4,1205.2 444.4,1201.2 450.4,1197.6 456.4,1193.7 462.4,1190.4 468.4,1186.4 474.4,1182.9 480.4,1179.7 486.4,1175.9 492.4,1173.2 498.4,1169.2 504.4,1166.1 510.4,1163.2 516.4,1159.3 522.4,1156.2 528.4,1153.0 534.4,1149.4 540.4,1145.9 546.4,1142.9 552.4,1139.8 558.4,1136.1 564.4,1133.1 570.4,1129.4 576.4,1126.2 582.4,1123.5 588.4,1119.4 594.4,1117.0 600.4,1112.9 606.4,1110.5 612.4,1106.9 618.4,1104.1 624.4,1100.6 630.4,1097.5 636.4,1094.4 642.4,1091.4 648.4,1088.9 654.4,1085.8 660.4,1083.2 666.4,1081.1 672.4,1078.3 678.4,1075.5 684.4,1072.6 690.4,1070.2 696.4,1068.9 702.4,1066.1 708.4,1064.0 714.4,1062.0 720.4,1059.7 726.4,1057.8 732.4,1055.5 738.4,1053.4 744.4,1051.4 750.4,1049.9 756.4,1048.1 762.4,1045.6 768.4,1043.5 774.4,1042.4 780.4,1040.0 786.4,1038.6 792.4,1036.4 798.4,1035.1 804.4,1033.1 810.4,1031.1 816.4,1029.5 822.4,1028.1 828.4,1026.7 834.4,1025.1 840.4,1023.5 846.4,1022.1 852.4,1020.2 858.4,1019.2 864.4,1017.8 870.4,1016.0 876.4,1014.6 882.4,1012.8 888.4,1011.3 894.4,1010.2 900.4,1009.0 906.4,1007.3 912.4,1006.2 918.4,1005.0 924.4,1003.8 930.4,1002.7 936.4,1001.2 942.4,999.6 948.4,998.5 954.4,997.4 960.4,996.3 966.4,995.0 972.4,993.8 978.4,993.2 984.4,991.8 990.4,991.0 996.4,989.1 1002.4,988.5 1008.4,987.2 1014.4,986.0 1020.4,984.7 1026.4,984.5 1032.4,982.6 1038.4,982.4 1044.4,981.0 1050.4,980.5 1056.4,978.7 1062.4,977.7 1068.4,977.1 1074.4,976.4 1080.4,975.5 1086.4,974.2 1092.4,973.6 1098.4,972.5 1104.4,971.4 1110.4,970.4 1116.4,969.7 1122.4,969.5 1128.4,968.0 1134.4,967.5 1140.4,966.2 1146.4,966.3 1152.4,965.4 1158.4,963.9 1164.4,963.2 1170.4,963.1 1176.4,961.8 1182.4,960.9" fill="none" stroke="#008000" stroke-width="1.25" stroke-linejoin="round"/>
<polyline points="90.4,1492.1 96.4,1487.0 102.4,1482.1 108.4,1477.7 114.4,1473.0 120.4,1466.9 126.4,1462.2 132.4,1456.5 138.4,1451.1 144.4,1444.9 150.4,1439.2 156.4,1433.4 162.4,1426.7 168.4,1420.3 174.4,1413.8 180.4,1408.1 186.4,1401.4 192.4,1394.6 198.4,1388.9 204.4,1381.8 210.4,1375.2 216.4,1369.2 222.4,1362.9 228.4,1356.5 234.4,1350.3 240.4,1343.8 246.4,1338.0 252.4,1331.7 258.4,1325.2 264.4,1319.8 270.4,1312.9 276.4,1307.1 282.4,1301.2 288.4,1295.6 294.4,1289.0 300.4,1283.0 306.4,1277.6 312.4,1272.1 318.4,1265.9 324.4,1260.7 330.4,1255.5 336.4,1250.1 342.4,1245.4 348.4,1239.8 354.4,1235.6 360.4,1230.2 366.4,1225.9 372.4,1222.0 378.4,1217.3 384.4,1213.4 390.4,1208.8 396.4,1204.8 402.4,1200.1 408.4,1196.2 414.4,1192.1 420.4,1187.8 426.4,1183.9 432.4,1180.1 438.4,1176.4 444.4,1172.0 450.4,1167.7 456.4,1164.1 462.4,1160.1 468.4,1156.3 474.4,1152.7 480.4,1148.9 486.4,1145.7 492.4,1141.8 498.4,1138.7 504.4,1134.7 510.4,1131.9 516.4,1127.7 522.4,1124.9 528.4,1121.2 534.4,1118.1 540.4,1115.5 546.4,1112.1 552.4,1108.9 558.4,1105.5 564.4,1103.2 570.4,1100.0 576.4,1096.4 582.4,1093.7 588.4,1090.9 594.4,1087.6 600.4,1084.8 606.4,1082.5 612.4,1079.9 618.4,1076.6 624.4,1073.6 630.4,1071.4 636.4,1069.1 642.4,1066.5 648.4,1064.0 654.4,1061.5 660.4,1059.0 666.4,1055.9 672.4,1054.2 678.4,1052.2 684.4,1049.5 690.4,1047.1 696.4,1045.6 702.4,1043.4 708.4,1041.1 714.4,1038.6 720.4,1037.0 726.4,1035.0 732.4,1033.4 738.4,1031.7 744.4,1029.3 750.4,1027.4 756.4,1025.7 762.4,1023.9 768.4,1022.2 774.4,1020.0 780.4,1018.5 786.4,1017.2 792.4,1015.3 798.4,1013.5 804.4,1011.7 810.4,1010.1 816.4,1008.5 822.4,1007.8 828.4,1006.0 834.4,1004.7 840.4,1003.3 846.4,1001.9 852.4,1000.1 858.4,999.1 864.4,997.7 870.4,996.2 876.4,995.6 882.4,994.8 888.4,993.7 894.4,991.8 900.4,991.3 906.4,989.5 912.4,988.5 918.4,987.5 924.4,986.6 930.4,985.4 936.4,984.6 942.4,983.5 948.4,983.2 954.4,982.4 960.4,981.2 966.4,979.9 972.4,979.2 978.4,978.2 984.4,978.3 990.4,977.0 996.4,975.9 1002.4,975.6 1008.4,974.5 1014.4,974.2 1020.4,973.4 1026.4,972.9 1032.4,972.4 1038.4,971.4 1044.4,970.5 1050.4,970.1 1056.4,969.6 1062.4,968.7 1068.4,968.7 1074.4,967.9 1080.4,966.8 1086.4,966.9 1092.4,966.3 1098.4,965.6 1104.4,965.0 1110.4,964.5 1116.4,963.6 1122.4,963.0" fill="none" stroke="#800080" stroke-width="1.25" stroke-linejoin="round"/>
<polyline points="90.4,1492.3 96.4,1486.8 102.4,1481.6 108.4,1476.0 114.4,1470.4 120.4,1464.1 126.4,1457.7 132.4,1451.3 138.4,1444.5 144.4,1438.4 150.4,1431.3 156.4,1423.6 162.4,1416.5 168.4,1408.9 174.4,1401.2 180.4,1393.5 186.4,1386.1 192.4,1379.1 198.4,1371.6 204.4,1363.8 210.4,1357.1 216.4,1350.0 222.4,1342.3 228.4,1335.2 234.4,1328.3 240.4,1321.0 246.4,1314.7 252.4,1307.3 258.4,1300.9 264.4,1293.5 270.4,1286.4 276.4,1279.9 282.4,1273.0 288.4,1265.4 294.4,1259.2 300.4,1251.7 306.4,1245.3 312.4,1238.9 318.4,1233.0 324.4,1226.8 330.4,1221.1 336.4,1216.2 342.4,1211.0 348.4,1206.7 354.4,1202.2 360.4,1197.9 366.4,1194.0 372.4,1190.5 378.4,1186.6 384.4,1182.4 390.4,1178.7 396.4,1174.4 402.4,1171.3 408.4,1167.4 414.4,1163.2 420.4,1159.4 426.4,1154.7 432.4,1151.0 438.4,1146.8 444.4,1142.8 450.4,1139.3 456.4,1135.6 462.4,1132.0 468.4,1128.3 474.4,1124.0 480.4,1120.9 486.4,1117.3 492.4,1113.5 498.4,1110.2 504.4,1107.0 510.4,1103.3 516.4,1099.7 522.4,1096.7 528.4,1094.1 534.4,1091.3 540.4,1088.1 546.4,1085.1 552.4,1082.8 558.4,1079.9 564.4,1077.3 570.4,1074.4 576.4,1071.7 582.4,1068.9 588.4,1066.2 594.4,1063.8 600.4,1061.3 606.4,1058.4 612.4,1056.1 618.4,1053.4 624.4,1051.6 630.4,1048.7 636.4,1046.8 642.4,1045.1 648.4,1042.8 654.4,1040.5 660.4,1038.5 666.4,1036.3 672.4,1034.6 678.4,1031.9 684.4,1030.5 690.4,1028.4 696.4,1026.6 702.4,1025.5 708.4,1023.7 714.4,1021.5 720.4,1020.2 726.4,1018.7 732.4,1017.0 738.4,1015.3 744.4,1013.5 750.4,1012.7 756.4,1011.2 762.4,1009.5 768.4,1007.8 774.4,1006.4 780.4,1005.7 786.4,1004.4 792.4,1003.3 798.4,1001.5 804.4,1000.4 810.4,999.3 816.4,998.2 822.4,997.2 828.4,995.4 834.4,994.5 840.4,993.7 846.4,992.6 852.4,990.8 858.4,989.8 864.4,988.8 870.4,987.7 876.4,986.6 882.4,986.3 888.4,985.0 894.4,984.1 900.4,982.9 906.4,981.4 912.4,980.9 918.4,979.7 924.4,978.8 930.4,978.4 936.4,977.1 942.4,976.4 948.4,975.1 954.4,974.0 960.4,973.4 966.4,972.5 972.4,972.5 978.4,971.7 984.4,970.6 990.4,970.2 996.4,969.0 1002.4,968.9 1008.4,967.7 1014.4,967.4 1020.4,966.6 1026.4,966.1 1032.4,965.8 1038.4,965.0 1044.4,964.9 1050.4,964.7 1056.4,964.1 1062.4,962.9 1068.4,962.3 1074.4,962.3 1080.4,962.2 1086.4,961.6 1092.4,961.3 1098.4,960.7 1104.4,960.0 1110.4,959.6 1116.4,959.6 1122.4,959.3 1128.4,959.0 1134.4,958.0 1140.4,957.8 1146.4,957.2 1152.4,957.2 1158.4,957.1 1164.4,957.3 1170.4,957.2 1176.4,956.9 1182.4,956.6" fill="none" stroke="#99ccff" stroke-width="1.25" stroke-linejoin="round"/>
<polyline points="88.4,1478.4 89.4,1457.8 93.5,1416.7 97.6,1365.2 101.7,1324.0 102.8,1324.0 102.8,1316.0 103.8,1316.0 103.8,1307.5 104.9,1307.5 104.9,1299.0 105.9,1299.0 105.9,1287.7 105.9,1287.7 106.9,1287.7 106.9,1282.0 108.0,1282.0 108.0,1276.3 109.0,1276.3 109.0,1267.8 110.0,1267.8 110.0,1262.2 110.0,1262.2 111.0,1262.2 111.0,1256.5 112.0,1256.5 112.0,1250.9 113.1,1250.9 113.1,1248.0 114.1,1248.0 114.1,1242.4 114.1,1242.4 115.1,1242.4 115.1,1236.7 116.1,1236.7 116.1,1228.2 117.2,1228.2 117.2,1222.6 118.2,1222.6 118.2,1216.9 119.2,1216.9 119.2,1211.2 119.2,1211.2 121.5,1190.0 122.5,1190.0 122.5,1185.8 123.6,1185.8 123.6,1180.1 124.6,1180.1 124.6,1177.3 125.7,1177.3 125.7,1171.6 126.7,1171.6 126.7,1168.8 127.8,1168.8 127.8,1163.1 128.8,1163.1 128.8,1157.5 129.9,1157.5 129.9,1154.6 130.9,1154.6 130.9,1149.0 132.0,1149.0 132.0,1146.2 133.0,1146.2 133.0,1140.5 133.0,1140.5 136.5,1108.0 137.6,1108.0 137.6,1100.9 138.7,1100.9 138.7,1095.2 139.8,1095.2 139.8,1086.7 139.8,1086.7 140.8,1086.7 140.8,1083.9 141.9,1083.9 141.9,1081.1 142.9,1081.1 142.9,1078.2 144.0,1078.2 144.0,1075.4 145.0,1075.4 145.0,1072.6 146.1,1072.6 146.1,1069.7 147.1,1069.7 147.1,1066.9 148.2,1066.9 148.2,1064.1 149.2,1064.1 149.2,1061.2 150.3,1061.2 150.3,1058.4 151.3,1058.4 151.3,1055.6 151.3,1055.6 152.4,1055.6 152.4,1049.9 153.5,1049.9 153.5,1047.1 154.6,1047.1 154.6,1044.3 155.6,1044.3 155.6,1041.4 156.7,1041.4 156.7,1035.8 157.8,1035.8 157.8,1033.0 158.9,1033.0 158.9,1030.1 158.9,1030.1 160.2,1030.1 160.2,1035.8 161.4,1035.8 161.4,1044.3 161.4,1044.3 162.0,1027.0 163.1,1027.0 163.1,1024.5 164.1,1024.5 164.1,1018.8 165.2,1018.8 165.2,1016.0 165.2,1016.0 172.9,1016.0 174.2,1016.0 174.2,1021.6 175.4,1021.6 175.4,1027.3 175.4,1027.3 179.2,1027.3 180.5,1027.3 180.5,1018.8 181.7,1018.8 181.7,1013.1 183.0,1013.1 183.0,1007.5 183.0,1007.5 184.1,1007.5 184.1,1004.6 185.1,1004.6 185.1,1001.8 187.3,1001.8 187.3,999.0 188.3,999.0 188.3,996.2 189.4,996.2 190.5,996.2 190.5,993.3 193.7,993.3 193.7,990.5 195.9,990.5 195.9,987.7 197.0,987.7 214.8,987.7 216.0,993.6 217.0,993.6 217.0,993.3 220.0,993.3 220.0,996.2 227.0,996.2 227.0,999.0 230.0,999.0 231.1,999.0 231.1,1001.8 232.2,1001.8 232.2,1004.6 233.3,1004.6 233.3,1007.5 234.3,1007.5 234.3,1010.3 235.4,1010.3 235.4,1013.1 236.5,1013.1 236.5,1016.0 237.6,1016.0 237.6,1018.8 237.6,1018.8 239.6,1018.8 239.6,1021.6 241.6,1021.6 241.6,1024.5 242.6,1024.5 242.6,1027.3 244.6,1027.3 244.6,1030.1 245.6,1030.1 245.6,1033.0 247.6,1033.0 247.6,1035.8 249.6,1035.8 249.6,1038.6 250.6,1038.6 250.6,1041.4 251.6,1041.4 252.6,1041.4 252.6,1044.3 253.6,1044.3 253.6,1047.1 254.6,1047.1 254.6,1049.9 255.6,1049.9 255.6,1052.8 256.6,1052.8 256.6,1055.6 257.6,1055.6 257.6,1058.4 259.6,1058.4 259.6,1061.2 260.6,1061.2 260.6,1064.1 261.6,1064.1 261.6,1066.9 262.6,1066.9 262.6,1069.7 263.6,1069.7 263.6,1072.6 264.6,1072.6 264.6,1075.4 265.6,1075.4 265.6,1078.2 265.6,1078.2 266.6,1078.2 266.6,1081.1 267.6,1081.1 267.6,1083.9 268.6,1083.9 268.6,1086.7 269.7,1086.7 269.7,1089.5 270.7,1089.5 270.7,1092.4 271.7,1092.4 271.7,1098.0 272.7,1098.0 272.7,1100.9 273.7,1100.9 273.7,1103.7 274.7,1103.7 274.7,1106.5 275.7,1106.5 275.7,1109.4 276.7,1109.4 276.7,1112.2 277.8,1112.2 277.8,1115.0 278.8,1115.0 278.8,1120.7 279.8,1120.7 279.8,1123.5 280.8,1123.5 280.8,1126.3 280.8,1126.3 281.8,1126.3 281.8,1129.2 282.8,1129.2 282.8,1132.0 283.9,1132.0 283.9,1137.7 284.9,1137.7 284.9,1140.5 285.9,1140.5 285.9,1143.3 286.9,1143.3 286.9,1146.2 287.9,1146.2 287.9,1151.8 289.0,1151.8 289.0,1154.6 290.0,1154.6 290.0,1157.5 291.0,1157.5 291.0,1160.3 291.0,1160.3 292.1,1160.3 292.1,1166.0 293.2,1166.0 293.2,1171.6 294.3,1171.6 294.3,1174.5 295.4,1174.5 295.4,1180.1 296.5,1180.1 296.5,1185.8 297.6,1185.8 297.6,1191.4 298.7,1191.4 298.7,1194.3 299.8,1194.3 299.8,1199.9 299.8,1199.9 300.8,1199.9 300.8,1205.6 301.8,1205.6 301.8,1211.2 302.8,1211.2 302.8,1216.9 303.8,1216.9 303.8,1222.6 304.8,1222.6 304.8,1228.2 305.8,1228.2 305.8,1233.9 306.8,1233.9 306.8,1236.7 307.8,1236.7 307.8,1242.4 308.8,1242.4 308.8,1248.0 309.8,1248.0 309.8,1253.7 310.8,1253.7 310.8,1259.4 311.8,1259.4 311.8,1265.0 312.8,1265.0 312.8,1270.7 313.8,1270.7 313.8,1276.3 313.8,1276.3 314.9,1276.3 314.9,1282.0 315.9,1282.0 315.9,1287.7 317.0,1287.7 317.0,1293.3 318.0,1293.3 318.0,1296.1 319.1,1296.1 319.1,1301.8 320.1,1301.8 320.1,1307.5 321.2,1307.5 321.2,1313.1 322.3,1313.1 322.3,1318.8 323.3,1318.8 323.3,1324.4 324.4,1324.4 324.4,1330.1 325.4,1330.1 325.4,1335.8 326.5,1335.8 326.5,1338.6 326.5,1338.6 327.6,1338.6 327.6,1344.2 328.6,1344.2 328.6,1349.9 329.7,1349.9 329.7,1355.6 330.7,1355.6 330.7,1358.4 331.8,1358.4 331.8,1364.1 332.9,1364.1 332.9,1369.7 333.9,1369.7 333.9,1372.5 335.0,1372.5 335.0,1378.2 336.0,1378.2 336.0,1383.9 337.1,1383.9 337.1,1389.5 338.1,1389.5 338.1,1392.4 339.2,1392.4 339.2,1398.0 339.2,1398.0 340.2,1398.0 340.2,1400.9 341.2,1400.9 341.2,1406.5 342.3,1406.5 342.3,1409.3 343.3,1409.3 343.3,1412.2 344.3,1412.2 344.3,1417.8 345.3,1417.8 345.3,1420.7 346.3,1420.7 346.3,1423.5 347.4,1423.5 347.4,1429.2 348.4,1429.2 348.4,1432.0 349.4,1432.0 349.4,1434.8 349.4,1434.8 352.0,1434.8 352.0,1432.0 352.0,1432.0 353.1,1432.0 353.1,1434.8 354.2,1434.8 354.2,1437.6 355.3,1437.6 355.3,1440.5 356.4,1440.5 356.4,1443.3 357.5,1443.3 357.5,1446.1 357.5,1446.1 358.6,1446.1 358.6,1443.3 360.9,1443.3 360.9,1440.5 362.0,1440.5 363.0,1440.5 363.0,1437.6 365.1,1437.6 365.1,1434.8 367.1,1434.8 367.1,1432.0 368.1,1432.0 368.1,1429.2 370.2,1429.2 370.2,1426.3 372.2,1426.3 372.2,1423.5 372.2,1423.5 373.2,1423.5 373.2,1420.7 374.2,1420.7 374.2,1415.0 375.2,1415.0 375.2,1412.2 376.2,1412.2 376.2,1406.5 377.2,1406.5 377.2,1403.7 378.2,1403.7 378.2,1398.0 379.2,1398.0 379.2,1395.2 380.2,1395.2 380.2,1389.5 381.2,1389.5 381.2,1386.7 381.2,1386.7 382.2,1386.7 382.2,1381.0 383.3,1381.0 383.3,1372.5 384.3,1372.5 384.3,1366.9 385.3,1366.9 385.3,1361.2 386.4,1361.2 386.4,1355.6 387.4,1355.6 387.4,1349.9 388.4,1349.9 388.4,1341.4 389.4,1341.4 389.4,1335.8 390.5,1335.8 390.5,1330.1 391.5,1330.1 391.5,1324.4 391.5,1324.4 392.5,1324.4 392.5,1316.0 393.6,1316.0 393.6,1310.3 394.6,1310.3 394.6,1304.6 395.6,1304.6 395.6,1296.1 396.6,1296.1 396.6,1290.5 397.6,1290.5 397.6,1282.0 398.7,1282.0 398.7,1276.3 399.7,1276.3 399.7,1267.8 399.7,1267.8 400.7,1267.8 400.7,1262.2 401.8,1262.2 401.8,1256.5 402.8,1256.5 402.8,1248.0 403.9,1248.0 403.9,1242.4 404.9,1242.4 404.9,1236.7 405.9,1236.7 405.9,1231.0 407.0,1231.0 407.0,1222.6 408.0,1222.6 408.0,1216.9 408.0,1216.9 409.0,1216.9 409.0,1208.4 410.0,1208.4 410.0,1202.8 411.0,1202.8 411.0,1194.3 412.0,1194.3 412.0,1185.8 412.0,1185.8 413.0,1185.8 413.0,1180.1 414.0,1180.1 414.0,1171.6 415.0,1171.6 415.0,1166.0 416.0,1166.0 416.0,1160.3 416.0,1160.3 417.0,1160.3 417.0,1166.0 418.0,1166.0 418.0,1168.8 418.0,1168.8 421.4,1127.0 422.5,1127.0 422.5,1117.9 423.7,1117.9 423.7,1109.4 424.9,1109.4 424.9,1098.0 426.0,1098.0 426.0,1089.5 426.0,1089.5 428.0,1109.0 429.0,1109.0 429.0,1117.9 430.0,1117.9 430.0,1123.5 431.0,1123.5 431.0,1132.0 432.0,1132.0 432.0,1140.5 432.0,1140.5 433.5,1180.0 433.7,1334.0 434.0,1200.0 436.0,1100.0 440.0,1040.0 444.0,990.0 448.0,950.0 449.4,938.0 450.7,938.0 450.7,939.6 452.0,939.6 452.0,942.4 452.0,942.4 454.0,942.4 454.0,945.2 456.0,945.2 457.0,945.2 457.0,942.4 459.0,942.4 459.0,939.6 461.0,939.6 461.0,936.7 461.0,936.7 463.0,936.7 463.8,956.0 464.9,956.0 464.9,962.2 466.0,962.2 466.0,965.0 466.0,965.0 467.1,965.0 467.1,973.5 468.3,973.5 468.3,982.0 468.3,982.0 469.5,982.0 469.5,976.4 470.7,976.4 470.7,973.5 471.9,973.5 471.9,970.7 471.9,970.7 478.2,970.7 479.5,970.7 479.5,976.4 480.9,976.4 480.9,979.2 480.9,979.2 482.7,995.7 484.0,1010.0" fill="none" stroke="#ff0000" stroke-width="1.3" stroke-linejoin="round"/>
<polyline points="88.4,1385.8 89.4,1385.8 89.4,1389.5 91.5,1389.5 91.5,1392.4 92.5,1392.4 92.5,1395.2 92.5,1395.2 94.5,1416.7 95.8,1416.7 95.8,1423.5 97.2,1423.5 97.2,1432.0 97.2,1432.0 99.3,1451.6 100.5,1451.6 100.5,1440.5 101.7,1440.5 101.7,1432.0 101.7,1432.0 102.8,1377.5 105.5,1344.6 106.9,1293.0 110.0,1262.3 111.0,1262.3 111.0,1253.7 112.0,1253.7 112.0,1245.2 113.1,1245.2 113.1,1236.7 114.1,1236.7 114.1,1228.2 115.1,1228.2 115.1,1219.7 115.1,1219.7 118.6,1180.0 120.8,1156.2 121.8,1156.2 121.8,1151.8 122.9,1151.8 122.9,1146.2 123.9,1146.2 123.9,1140.5 125.0,1140.5 125.0,1134.8 126.0,1134.8 126.0,1129.2 127.1,1129.2 127.1,1123.5 127.1,1123.5 128.4,1123.5 128.4,1120.7 129.7,1120.7 129.7,1115.0 131.0,1115.0 131.0,1112.2 131.0,1112.2 133.5,1112.2 133.5,1109.4 134.8,1109.4 136.1,1109.4 136.1,1100.9 137.3,1100.9 137.3,1092.4 138.6,1092.4 138.6,1083.9 138.6,1083.9 139.7,1083.9 139.7,1078.2 140.8,1078.2 140.8,1072.6 141.9,1072.6 141.9,1066.9 142.9,1066.9 142.9,1061.2 144.0,1061.2 144.0,1058.4 145.1,1058.4 145.1,1052.8 146.2,1052.8 146.2,1047.1 146.2,1047.1 147.3,1047.1 147.3,1044.3 148.3,1044.3 148.3,1041.4 149.4,1041.4 149.4,1038.6 150.4,1038.6 150.4,1033.0 151.5,1033.0 151.5,1030.1 152.6,1030.1 152.6,1027.3 153.6,1027.3 153.6,1024.5 154.7,1024.5 154.7,1021.6 155.7,1021.6 155.7,1018.8 156.8,1018.8 156.8,1016.0 157.8,1016.0 157.8,1013.1 158.9,1013.1 158.9,1010.3 158.9,1010.3 160.0,1010.3 160.0,1007.5 161.0,1007.5 161.0,1004.6 163.1,1004.6 163.1,1001.8 164.2,1001.8 164.2,999.0 166.3,999.0 166.3,996.2 168.4,996.2 168.4,993.3 169.5,993.3 169.5,990.5 171.6,990.5 171.6,987.7 171.6,987.7 175.4,987.7 176.4,987.7 176.4,990.5 177.5,990.5 177.5,993.3 178.6,993.3 178.6,996.2 179.6,996.2 179.6,999.0 180.6,999.0 180.6,1001.8 181.7,1001.8 181.7,1004.6 181.7,1004.6 182.7,1004.6 182.7,999.0 183.7,999.0 183.7,993.3 184.8,993.3 184.8,990.5 185.8,990.5 185.8,984.8 186.8,984.8 186.8,982.0 186.8,982.0 187.8,982.0 187.8,979.2 189.9,979.2 189.9,976.4 190.9,976.4 190.9,973.5 191.9,973.5 194.0,973.5 194.0,970.7 196.2,970.7 196.2,967.9 198.3,967.9 203.0,967.9 203.0,970.7 203.0,970.7 204.1,970.7 204.1,967.9 208.5,967.9 208.5,965.0 208.5,965.0 216.0,965.0 216.0,967.9 216.0,967.9 218.5,967.9 218.5,970.7 219.8,970.7 220.9,970.7 220.9,973.5 225.1,973.5 225.1,976.4 229.3,976.4 229.3,979.2 232.5,979.2 233.6,979.2 233.6,982.0 234.6,982.0 234.6,984.8 235.7,984.8 235.7,987.7 237.8,987.7 237.8,990.5 238.8,990.5 238.8,993.3 239.9,993.3 239.9,996.2 242.0,996.2 242.0,999.0 243.1,999.0 243.1,1001.8 244.1,1001.8 244.1,1004.6 245.2,1004.6 245.2,1007.5 245.2,1007.5 247.2,1007.5 247.2,1010.3 249.3,1010.3 249.3,1013.1 250.3,1013.1 250.3,1016.0 252.3,1016.0 252.3,1018.8 254.4,1018.8 254.4,1021.6 255.4,1021.6 255.4,1024.5 257.4,1024.5 257.4,1027.3 259.5,1027.3 259.5,1030.1 260.5,1030.1 260.5,1033.0 260.5,1033.0 261.6,1033.0 261.6,1035.8 262.6,1035.8 262.6,1038.6 264.7,1038.6 264.7,1041.4 265.8,1041.4 265.8,1044.3 266.9,1044.3 266.9,1047.1 267.9,1047.1 267.9,1049.9 269.0,1049.9 269.0,1052.8 270.0,1052.8 270.0,1055.6 271.1,1055.6 271.1,1058.4 272.1,1058.4 272.1,1061.2 273.2,1061.2 273.2,1064.1 273.2,1064.1 274.3,1064.1 274.3,1066.9 275.3,1066.9 275.3,1069.7 276.4,1069.7 276.4,1075.4 277.4,1075.4 277.4,1078.2 278.5,1078.2 278.5,1081.1 279.5,1081.1 279.5,1083.9 280.6,1083.9 280.6,1086.7 281.7,1086.7 281.7,1089.5 282.7,1089.5 282.7,1092.4 283.8,1092.4 283.8,1095.2 284.8,1095.2 284.8,1100.9 285.9,1100.9 285.9,1103.7 285.9,1103.7 287.0,1103.7 287.0,1106.5 288.0,1106.5 288.0,1109.4 289.1,1109.4 289.1,1115.0 290.1,1115.0 290.1,1117.9 291.2,1117.9 291.2,1120.7 292.2,1120.7 292.2,1126.3 293.3,1126.3 293.3,1129.2 294.4,1129.2 294.4,1132.0 295.4,1132.0 295.4,1137.7 296.5,1137.7 296.5,1140.5 297.5,1140.5 297.5,1146.2 298.6,1146.2 298.6,1149.0 298.6,1149.0 299.7,1149.0 299.7,1154.6 300.8,1154.6 300.8,1160.3 301.9,1160.3 301.9,1168.8 303.1,1168.8 303.1,1174.5 304.2,1174.5 304.2,1180.1 305.3,1180.1 305.3,1185.8 306.4,1185.8 306.4,1194.3 307.5,1194.3 307.5,1199.9 307.5,1199.9 308.5,1199.9 308.5,1205.6 309.6,1205.6 309.6,1211.2 310.6,1211.2 310.6,1216.9 311.6,1216.9 311.6,1219.7 312.7,1219.7 312.7,1225.4 313.7,1225.4 313.7,1231.0 314.7,1231.0 314.7,1236.7 315.8,1236.7 315.8,1242.4 316.8,1242.4 316.8,1248.0 317.8,1248.0 317.8,1253.7 318.8,1253.7 318.8,1256.5 319.9,1256.5 319.9,1262.2 320.9,1262.2 320.9,1267.8 321.9,1267.8 321.9,1273.5 323.0,1273.5 323.0,1279.2 324.0,1279.2 324.0,1284.8 324.0,1284.8 325.0,1284.8 325.0,1287.7 326.0,1287.7 326.0,1293.3 327.0,1293.3 327.0,1299.0 328.1,1299.0 328.1,1304.6 329.1,1304.6 329.1,1307.5 330.1,1307.5 330.1,1313.1 331.1,1313.1 331.1,1318.8 332.1,1318.8 332.1,1324.4 333.1,1324.4 333.1,1327.3 334.1,1327.3 334.1,1332.9 335.1,1332.9 335.1,1338.6 336.2,1338.6 336.2,1341.4 337.2,1341.4 337.2,1347.1 338.2,1347.1 338.2,1352.7 339.2,1352.7 339.2,1358.4 339.2,1358.4 340.2,1358.4 340.2,1361.2 341.2,1361.2 341.2,1366.9 342.2,1366.9 342.2,1369.7 343.3,1369.7 343.3,1375.4 344.3,1375.4 344.3,1378.2 345.3,1378.2 345.3,1383.9 346.3,1383.9 346.3,1389.5 347.3,1389.5 347.3,1392.4 348.3,1392.4 348.3,1398.0 349.3,1398.0 349.3,1400.9 350.3,1400.9 350.3,1406.5 351.4,1406.5 351.4,1409.3 352.4,1409.3 352.4,1415.0 353.4,1415.0 353.4,1417.8 354.4,1417.8 354.4,1423.5 354.4,1423.5 356.6,1423.5 356.6,1426.3 360.0,1426.3 360.0,1429.2 360.0,1429.2 361.1,1429.2 361.1,1432.0 362.3,1432.0 362.3,1437.6 363.5,1437.6 363.5,1440.5 364.6,1440.5 364.6,1446.1 364.6,1446.1 365.7,1446.1 365.7,1443.3 368.0,1443.3 368.0,1440.5 368.0,1440.5 370.0,1440.5 370.0,1443.3 371.0,1443.3 371.0,1446.1 371.0,1446.1 372.0,1446.1 372.0,1443.3 373.1,1443.3 373.1,1440.5 374.1,1440.5 374.1,1437.6 376.2,1437.6 376.2,1434.8 377.2,1434.8 377.2,1432.0 378.3,1432.0 378.3,1429.2 379.3,1429.2 379.3,1426.3 381.4,1426.3 381.4,1423.5 382.4,1423.5 382.4,1420.7 382.4,1420.7 383.4,1420.7 383.4,1415.0 384.4,1415.0 384.4,1412.2 385.4,1412.2 385.4,1406.5 386.4,1406.5 386.4,1400.9 387.4,1400.9 387.4,1395.2 388.4,1395.2 388.4,1392.4 389.4,1392.4 389.4,1386.7 389.4,1386.7 390.4,1386.7 390.4,1381.0 391.5,1381.0 391.5,1378.2 392.5,1378.2 392.5,1372.5 393.5,1372.5 393.5,1369.7 394.6,1369.7 394.6,1364.1 395.6,1364.1 395.6,1358.4 396.7,1358.4 396.7,1355.6 397.7,1355.6 397.7,1349.9 397.7,1349.9 398.7,1349.9 398.7,1347.1 399.8,1347.1 399.8,1341.4 400.8,1341.4 400.8,1338.6 401.8,1338.6 401.8,1332.9 402.9,1332.9 402.9,1327.3 403.9,1327.3 403.9,1324.4 403.9,1324.4 404.9,1324.4 404.9,1316.0 405.9,1316.0 405.9,1307.5 406.9,1307.5 406.9,1299.0 408.0,1299.0 408.0,1290.5 409.0,1290.5 409.0,1282.0 410.0,1282.0 410.0,1273.5 410.0,1273.5 411.0,1273.5 411.0,1267.8 412.0,1267.8 412.0,1265.0 413.0,1265.0 413.0,1259.4 414.0,1259.4 414.0,1253.7 414.0,1253.7 416.5,1300.0 417.2,1497.0 418.2,1404.0 419.3,1497.0 421.0,1330.0 426.0,1230.0 427.0,1230.0 427.0,1225.4 428.0,1225.4 428.0,1222.6 429.0,1222.6 429.0,1216.9 430.0,1216.9 430.0,1214.1 431.0,1214.1 431.0,1208.4 432.0,1208.4 432.0,1205.6 433.0,1205.6 433.0,1199.9 433.0,1199.9 436.0,1110.0 441.0,1060.0 445.0,1000.0 448.0,960.0 449.4,943.4 450.5,943.4 450.5,948.1 451.6,948.1 451.6,950.9 452.8,950.9 452.8,953.7 453.9,953.7 453.9,956.5 453.9,956.5 459.9,956.5 459.9,959.4 462.9,959.4 464.2,959.4 464.2,962.2 465.6,962.2 465.6,965.0 465.6,965.0 477.1,965.0 477.1,967.9 478.2,967.9 480.9,967.9 480.9,970.7 480.9,970.7 482.7,988.5 483.5,993.0" fill="none" stroke="#008000" stroke-width="1.3" stroke-linejoin="round"/>
<polyline points="84.9,1464.0 87.3,1416.7 88.3,1416.7 88.3,1409.3 89.4,1409.3 89.4,1400.9 90.5,1400.9 90.5,1392.4 91.5,1392.4 91.5,1386.7 91.5,1386.7 93.5,1344.6 94.5,1344.6 94.5,1338.6 95.6,1338.6 95.6,1330.1 96.6,1330.1 96.6,1324.4 96.6,1324.4 100.7,1283.0 103.8,1248.0 107.9,1210.9 108.9,1210.9 108.9,1202.8 110.0,1202.8 110.0,1194.3 111.0,1194.3 111.0,1188.6 112.0,1188.6 112.0,1180.1 112.0,1180.1 113.2,1180.1 113.2,1171.6 114.5,1171.6 114.5,1166.0 115.7,1166.0 115.7,1157.5 115.7,1157.5 116.8,1157.5 116.8,1151.8 117.8,1151.8 117.8,1146.2 118.8,1146.2 118.8,1137.7 119.9,1137.7 119.9,1132.0 121.0,1132.0 121.0,1123.5 122.0,1123.5 122.0,1117.9 122.0,1117.9 123.3,1117.9 123.3,1112.2 124.6,1112.2 124.6,1106.5 125.9,1106.5 125.9,1103.7 125.9,1103.7 127.5,1107.0 128.7,1107.0 128.7,1106.5 131.0,1106.5 133.5,1062.2 134.5,1062.2 134.5,1058.4 135.5,1058.4 135.5,1052.8 136.6,1052.8 136.6,1049.9 137.6,1049.9 137.6,1047.1 138.6,1047.1 138.6,1041.4 138.6,1041.4 139.7,1041.4 139.7,1035.8 140.8,1035.8 140.8,1033.0 141.9,1033.0 141.9,1027.3 142.9,1027.3 142.9,1021.6 144.0,1021.6 144.0,1018.8 145.1,1018.8 145.1,1013.1 146.2,1013.1 146.2,1010.3 146.2,1010.3 147.2,1010.3 147.2,1007.5 148.2,1007.5 148.2,1004.6 149.2,1004.6 149.2,1001.8 150.2,1001.8 150.2,999.0 151.2,999.0 151.2,996.2 152.3,996.2 152.3,993.3 153.3,993.3 153.3,990.5 154.3,990.5 154.3,987.7 155.3,987.7 155.3,984.8 156.3,984.8 156.3,982.0 156.3,982.0 157.3,982.0 157.3,979.2 159.4,979.2 159.4,976.4 161.4,976.4 161.4,973.5 163.4,973.5 163.4,970.7 165.5,970.7 165.5,967.9 166.5,967.9 172.5,967.9 172.5,965.0 180.5,965.0 181.8,965.0 181.8,959.4 183.0,959.4 183.0,953.7 183.0,953.7 185.0,953.7 185.0,950.9 188.0,950.9 188.0,948.1 188.0,948.1 195.7,948.1 197.0,953.0 198.1,953.0 198.1,953.7 203.3,953.7 203.3,956.5 203.3,956.5 204.6,959.4 206.0,954.3 207.1,954.3 207.1,953.7 214.8,953.7 215.8,953.7 215.8,956.5 218.8,956.5 218.8,959.4 221.9,959.4 221.9,962.2 224.9,962.2 224.9,965.0 224.9,965.0 227.0,965.0 227.0,967.9 229.1,967.9 229.1,970.7 231.2,970.7 231.2,973.5 233.4,973.5 233.4,976.4 235.5,976.4 235.5,979.2 237.6,979.2 237.6,982.0 237.6,982.0 239.6,982.0 239.6,984.8 241.7,984.8 241.7,987.7 243.7,987.7 243.7,990.5 245.8,990.5 245.8,993.3 247.8,993.3 247.8,996.2 248.8,996.2 248.8,999.0 250.9,999.0 250.9,1001.8 252.9,1001.8 252.9,1004.6 252.9,1004.6 253.9,1004.6 253.9,1007.5 255.9,1007.5 255.9,1010.3 256.9,1010.3 256.9,1013.1 257.9,1013.1 257.9,1016.0 259.0,1016.0 259.0,1018.8 261.0,1018.8 261.0,1021.6 262.0,1021.6 262.0,1024.5 263.0,1024.5 263.0,1027.3 263.0,1027.3 264.1,1027.3 264.1,1030.1 265.1,1030.1 265.1,1033.0 266.2,1033.0 266.2,1035.8 267.2,1035.8 267.2,1038.6 268.3,1038.6 268.3,1041.4 269.4,1041.4 269.4,1044.3 270.4,1044.3 270.4,1047.1 271.5,1047.1 271.5,1049.9 272.5,1049.9 272.5,1052.8 273.6,1052.8 273.6,1055.6 274.6,1055.6 274.6,1058.4 275.7,1058.4 275.7,1061.2 275.7,1061.2 276.8,1061.2 276.8,1066.9 277.8,1066.9 277.8,1069.7 278.9,1069.7 278.9,1072.6 279.9,1072.6 279.9,1075.4 281.0,1075.4 281.0,1078.2 282.0,1078.2 282.0,1083.9 283.1,1083.9 283.1,1086.7 284.2,1086.7 284.2,1089.5 285.2,1089.5 285.2,1092.4 286.3,1092.4 286.3,1095.2 287.3,1095.2 287.3,1100.9 288.4,1100.9 288.4,1103.7 288.4,1103.7 289.5,1103.7 289.5,1106.5 290.5,1106.5 290.5,1109.4 291.6,1109.4 291.6,1115.0 292.6,1115.0 292.6,1117.9 293.7,1117.9 293.7,1120.7 294.8,1120.7 294.8,1126.3 295.8,1126.3 295.8,1129.2 296.9,1129.2 296.9,1132.0 297.9,1132.0 297.9,1137.7 299.0,1137.7 299.0,1140.5 300.0,1140.5 300.0,1146.2 301.1,1146.2 301.1,1149.0 301.1,1149.0 302.2,1149.0 302.2,1154.6 303.3,1154.6 303.3,1160.3 304.4,1160.3 304.4,1168.8 305.6,1168.8 305.6,1174.5 306.7,1174.5 306.7,1180.1 307.8,1180.1 307.8,1185.8 308.9,1185.8 308.9,1194.3 310.0,1194.3 310.0,1199.9 310.0,1199.9 311.0,1199.9 311.0,1205.6 312.0,1205.6 312.0,1211.2 313.0,1211.2 313.0,1216.9 314.0,1216.9 314.0,1222.6 315.0,1222.6 315.0,1231.0 316.0,1231.0 316.0,1236.7 317.0,1236.7 317.0,1242.4 318.0,1242.4 318.0,1248.0 319.0,1248.0 319.0,1253.7 320.0,1253.7 320.0,1259.4 321.0,1259.4 321.0,1265.0 322.0,1265.0 322.0,1270.7 323.0,1270.7 323.0,1279.2 324.0,1279.2 324.0,1284.8 324.0,1284.8 325.0,1284.8 325.0,1287.7 326.0,1287.7 326.0,1293.3 327.0,1293.3 327.0,1299.0 328.1,1299.0 328.1,1304.6 329.1,1304.6 329.1,1310.3 330.1,1310.3 330.1,1316.0 331.1,1316.0 331.1,1321.6 332.1,1321.6 332.1,1324.4 333.1,1324.4 333.1,1330.1 334.1,1330.1 334.1,1335.8 335.1,1335.8 335.1,1341.4 336.2,1341.4 336.2,1347.1 337.2,1347.1 337.2,1352.7 338.2,1352.7 338.2,1358.4 339.2,1358.4 339.2,1361.2 339.2,1361.2 340.2,1361.2 340.2,1366.9 341.2,1366.9 341.2,1369.7 342.2,1369.7 342.2,1375.4 343.3,1375.4 343.3,1378.2 344.3,1378.2 344.3,1383.9 345.3,1383.9 345.3,1386.7 346.3,1386.7 346.3,1392.4 347.3,1392.4 347.3,1395.2 348.3,1395.2 348.3,1398.0 349.3,1398.0 349.3,1403.7 350.3,1403.7 350.3,1406.5 351.4,1406.5 351.4,1412.2 352.4,1412.2 352.4,1415.0 353.4,1415.0 353.4,1420.7 354.4,1420.7 354.4,1423.5 354.4,1423.5 356.6,1423.5 356.6,1426.3 360.9,1426.3 360.9,1429.2 362.0,1429.2 363.3,1429.2 363.3,1434.8 364.6,1434.8 364.6,1437.6 365.9,1437.6 365.9,1443.3 365.9,1443.3 369.0,1443.3 369.0,1440.5 370.0,1440.5 371.0,1440.5 371.0,1437.6 373.0,1437.6 373.0,1434.8 374.0,1434.8 374.0,1432.0 376.0,1432.0 376.0,1429.2 377.0,1429.2 377.0,1426.3 377.0,1426.3 378.0,1426.3 378.0,1420.7 379.1,1420.7 379.1,1415.0 380.1,1415.0 380.1,1406.5 381.1,1406.5 381.1,1400.9 382.2,1400.9 382.2,1395.2 383.2,1395.2 383.2,1389.5 384.3,1389.5 384.3,1381.0 385.3,1381.0 385.3,1375.4 385.3,1375.4 386.3,1375.4 386.3,1369.7 387.4,1369.7 387.4,1364.1 388.4,1364.1 388.4,1361.2 389.4,1361.2 389.4,1355.6 390.5,1355.6 390.5,1349.9 391.5,1349.9 391.5,1344.2 392.5,1344.2 392.5,1338.6 393.5,1338.6 393.5,1332.9 394.6,1332.9 394.6,1330.1 395.6,1330.1 395.6,1324.4 395.6,1324.4 396.6,1324.4 396.6,1318.8 397.7,1318.8 397.7,1313.1 398.7,1313.1 398.7,1307.5 399.8,1307.5 399.8,1304.6 400.8,1304.6 400.8,1299.0 401.8,1299.0 401.8,1293.3 402.9,1293.3 402.9,1287.7 403.9,1287.7 403.9,1282.0 403.9,1282.0 404.9,1282.0 404.9,1279.2 405.9,1279.2 405.9,1273.5 406.9,1273.5 406.9,1267.8 408.0,1267.8 408.0,1262.2 409.0,1262.2 409.0,1256.5 410.0,1256.5 410.0,1250.9 410.0,1250.9 414.0,1170.0 415.0,1170.0 415.0,1163.1 416.0,1163.1 416.0,1157.5 416.0,1157.5 418.0,1190.0 420.0,1160.0 422.0,1240.0 423.0,1240.0 423.0,1239.5 424.0,1239.5 424.0,1242.4 425.0,1242.4 426.1,1242.4 426.1,1245.2 427.3,1245.2 427.3,1248.0 427.3,1248.0 427.7,1497.0 428.5,1400.0 431.0,1250.0 434.0,1160.0 435.9,1121.8 437.7,1107.4 438.8,1107.4 438.8,1106.5 443.0,1106.5 444.0,1093.0 445.4,1093.0 445.4,1086.7 446.7,1086.7 446.7,1081.1 446.7,1081.1 447.6,1028.0 448.5,1010.0 449.4,974.0 450.6,974.0 450.6,970.7 451.8,970.7 451.8,965.0 453.0,965.0 453.0,959.4 453.0,959.4 454.1,959.4 454.1,962.2 455.1,962.2 455.1,965.0 456.1,965.0 456.1,967.9 457.2,967.9 457.2,970.7 459.3,970.7 459.3,973.5 459.3,973.5 460.4,973.5 460.4,976.4 461.6,976.4 461.6,979.2 463.8,979.2 463.8,982.0 463.8,982.0 464.8,982.0 464.8,979.2 466.9,979.2 466.9,976.4 467.9,976.4 467.9,973.5 470.0,973.5 470.0,970.7 470.0,970.7 472.3,970.7 472.3,973.5 473.5,973.5 474.7,973.5 474.7,976.4 475.9,976.4 475.9,979.2 477.0,979.2 477.0,982.0 478.2,982.0 478.2,984.8 478.2,984.8 480.9,1013.7 482.7,1046.0 483.2,1076.8 483.6,1094.8" fill="none" stroke="#0000ff" stroke-width="1.3" stroke-linejoin="round"/>
<polyline points="85.3,1427.0 87.3,1406.0 88.3,1406.0 88.3,1398.0 89.4,1398.0 89.4,1392.4 90.4,1392.4 90.4,1386.7 90.4,1386.7 92.5,1344.6 94.5,1272.6 95.0,1180.0 96.5,1180.0 96.5,1171.6 97.9,1171.6 97.9,1160.3 97.9,1160.3 101.7,1097.8 103.0,1097.8 103.0,1089.5 104.3,1089.5 104.3,1078.2 105.6,1078.2 105.6,1069.7 105.6,1069.7 106.7,1069.7 106.7,1066.9 107.8,1066.9 107.8,1064.1 108.9,1064.1 108.9,1058.4 110.0,1058.4 110.0,1055.6 111.1,1055.6 111.1,1052.8 112.2,1052.8 112.2,1049.9 113.3,1049.9 113.3,1044.3 114.4,1044.3 114.4,1041.4 114.4,1041.4 115.5,1041.4 115.5,1038.6 117.6,1038.6 117.6,1035.8 118.7,1035.8 118.7,1033.0 119.7,1033.0 119.7,1030.1 120.8,1030.1 121.9,1030.1 121.9,1027.3 122.9,1027.3 122.9,1024.5 124.0,1024.5 124.0,1021.6 125.0,1021.6 125.0,1018.8 127.2,1018.8 127.2,1016.0 128.2,1016.0 128.2,1013.1 129.3,1013.1 129.3,1010.3 130.3,1010.3 130.3,1007.5 131.4,1007.5 131.4,1004.6 133.5,1004.6 133.5,1001.8 133.5,1001.8 134.5,1001.8 134.5,999.0 136.5,999.0 136.5,996.2 138.6,996.2 138.6,993.3 140.6,993.3 140.6,990.5 141.6,990.5 141.6,987.7 143.6,987.7 143.6,984.8 145.7,984.8 145.7,982.0 147.7,982.0 147.7,979.2 148.7,979.2 150.8,979.2 150.8,976.4 161.4,976.4 162.7,976.4 162.7,973.5 165.2,973.5 165.2,970.7 165.2,970.7 171.2,970.7 171.2,967.9 179.2,967.9 181.7,967.9 181.7,970.7 183.0,970.7 185.2,970.7 185.2,967.9 187.3,967.9 187.3,965.0 187.3,965.0 188.3,965.0 188.3,967.9 190.3,967.9 190.3,970.7 192.4,970.7 192.4,973.5 194.4,973.5 195.4,973.5 195.4,976.4 198.5,976.4 198.5,979.2 201.5,979.2 201.5,982.0 204.6,982.0 204.6,984.8 204.6,984.8 210.8,984.8 210.8,987.7 216.0,987.7 217.3,987.7 217.3,990.5 218.5,990.5 218.5,993.3 219.8,993.3 228.0,993.3 228.0,996.2 230.0,996.2 232.2,996.2 232.2,999.0 234.3,999.0 234.3,1001.8 235.4,1001.8 235.4,1004.6 237.6,1004.6 237.6,1007.5 237.6,1007.5 239.6,1007.5 239.6,1010.3 242.7,1010.3 242.7,1013.1 245.8,1013.1 245.8,1016.0 248.8,1016.0 248.8,1018.8 251.9,1018.8 251.9,1021.6 252.9,1021.6 254.9,1021.6 254.9,1024.5 257.0,1024.5 257.0,1027.3 260.0,1027.3 260.0,1030.1 263.0,1030.1 263.0,1033.0 265.1,1033.0 265.1,1035.8 268.1,1035.8 268.1,1038.6 268.1,1038.6 270.2,1038.6 270.2,1041.4 272.3,1041.4 272.3,1044.3 275.4,1044.3 275.4,1047.1 277.5,1047.1 277.5,1049.9 280.7,1049.9 280.7,1052.8 282.8,1052.8 282.8,1055.6 284.9,1055.6 284.9,1058.4 285.9,1058.4 288.0,1058.4 288.0,1061.2 290.1,1061.2 290.1,1064.1 292.2,1064.1 292.2,1066.9 294.4,1066.9 294.4,1069.7 296.5,1069.7 296.5,1072.6 298.6,1072.6 298.6,1075.4 298.6,1075.4 300.7,1075.4 300.7,1078.2 301.8,1078.2 301.8,1081.1 302.8,1081.1 302.8,1083.9 305.0,1083.9 305.0,1086.7 306.0,1086.7 306.0,1089.5 308.1,1089.5 308.1,1092.4 309.2,1092.4 309.2,1095.2 311.3,1095.2 311.3,1098.0 311.3,1098.0 312.4,1098.0 312.4,1100.9 314.5,1100.9 314.5,1103.7 315.5,1103.7 315.5,1106.5 316.6,1106.5 316.6,1109.4 318.7,1109.4 318.7,1112.2 319.8,1112.2 319.8,1115.0 320.8,1115.0 320.8,1117.9 322.9,1117.9 322.9,1120.7 324.0,1120.7 324.0,1123.5 324.0,1123.5 325.1,1123.5 325.1,1126.3 326.1,1126.3 326.1,1129.2 327.2,1129.2 327.2,1132.0 329.3,1132.0 329.3,1134.8 330.4,1134.8 330.4,1137.7 331.4,1137.7 331.4,1140.5 332.5,1140.5 332.5,1143.3 333.5,1143.3 333.5,1146.2 334.6,1146.2 334.6,1149.0 335.6,1149.0 335.6,1151.8 336.7,1151.8 336.7,1154.6 336.7,1154.6 337.8,1154.6 337.8,1157.5 339.9,1157.5 339.9,1160.3 340.9,1160.3 340.9,1163.1 342.0,1163.1 342.0,1166.0 343.0,1166.0 343.0,1168.8 344.1,1168.8 344.1,1171.6 345.2,1171.6 345.2,1174.5 346.2,1174.5 346.2,1177.3 347.3,1177.3 347.3,1180.1 348.3,1180.1 348.3,1182.9 349.4,1182.9 350.4,1182.9 350.4,1188.6 351.4,1188.6 351.4,1191.4 352.4,1191.4 352.4,1194.3 353.4,1194.3 353.4,1197.1 354.4,1197.1 354.4,1199.9 354.4,1199.9 355.4,1199.9 355.4,1205.6 356.5,1205.6 356.5,1208.4 357.5,1208.4 357.5,1211.2 358.5,1211.2 358.5,1216.9 359.6,1216.9 359.6,1219.7 360.6,1219.7 360.6,1225.4 360.6,1225.4 361.6,1225.4 361.6,1228.2 362.7,1228.2 362.7,1231.0 363.7,1231.0 363.7,1236.7 364.7,1236.7 364.7,1239.5 365.8,1239.5 365.8,1242.4 366.8,1242.4 366.8,1248.0 367.8,1248.0 367.8,1250.9 368.8,1250.9 368.8,1253.7 369.9,1253.7 369.9,1259.4 370.9,1259.4 370.9,1262.2 370.9,1262.2 371.9,1262.2 371.9,1265.0 373.0,1265.0 373.0,1267.8 374.0,1267.8 374.0,1270.7 375.0,1270.7 375.0,1276.3 376.0,1276.3 376.0,1279.2 377.1,1279.2 377.1,1282.0 378.1,1282.0 378.1,1284.8 379.1,1284.8 379.1,1287.7 380.2,1287.7 380.2,1290.5 381.2,1290.5 381.2,1296.1 381.2,1296.1 383.2,1296.1 383.2,1299.0 384.3,1299.0 384.3,1301.8 385.3,1301.8 385.3,1304.6 387.3,1304.6 387.3,1307.5 388.4,1307.5 388.4,1310.3 389.4,1310.3 389.4,1313.1 389.4,1313.1 394.6,1313.1 394.6,1316.0 394.6,1316.0 395.6,1316.0 395.6,1313.1 399.7,1313.1 400.7,1313.1 400.7,1307.5 401.8,1307.5 401.8,1304.6 402.8,1304.6 402.8,1301.8 403.8,1301.8 403.8,1299.0 404.9,1299.0 404.9,1293.3 405.9,1293.3 405.9,1290.5 405.9,1290.5 406.9,1290.5 406.9,1284.8 408.0,1284.8 408.0,1279.2 409.0,1279.2 409.0,1273.5 410.0,1273.5 410.0,1267.8 411.1,1267.8 411.1,1262.2 412.1,1262.2 412.1,1259.4 412.1,1259.4 413.1,1259.4 413.1,1256.5 414.2,1256.5 414.2,1253.7 415.2,1253.7 415.2,1250.9 416.2,1250.9 416.2,1248.0 417.3,1248.0 417.3,1245.2 418.3,1245.2 418.3,1242.4 418.3,1242.4 419.3,1242.4 419.3,1233.9 420.3,1233.9 420.3,1228.2 420.3,1228.2 422.8,1228.2 423.6,1497.0 424.6,1497.0 425.2,1240.0 428.0,1330.0 431.8,1497.0 432.3,1324.0 433.0,1140.0 435.0,1075.0 439.5,1019.0 443.0,983.0 444.2,983.0 444.2,973.5 445.5,973.5 445.5,965.0 446.7,965.0 446.7,956.5 446.7,956.5 448.0,956.5 448.0,953.7 449.4,953.7 449.4,948.1 449.4,948.1 457.5,948.1 458.7,948.1 458.7,950.9 459.8,950.9 459.8,953.7 461.0,953.7 461.0,956.5 461.0,956.5 462.2,956.5 462.2,959.4 463.5,959.4 463.5,962.2 464.7,962.2 464.7,965.0 464.7,965.0 471.9,965.0 473.0,965.0 473.0,962.2 475.1,962.2 475.1,959.4 476.2,959.4 476.2,956.5 477.3,956.5 478.4,956.5 478.4,953.7 479.4,953.7 479.4,950.9 481.5,950.9 481.5,948.1 482.6,948.1 482.6,945.2 483.6,945.2 483.6,942.4 483.6,942.4" fill="none" stroke="#000000" stroke-width="1.3" stroke-linejoin="round"/>
<polyline points="86.3,1427.0 88.4,1385.8 89.4,1324.0 93.5,1276.7 96.6,1231.0 100.7,1180.0 101.8,1180.0 101.8,1177.3 102.9,1177.3 102.9,1174.5 104.0,1174.5 104.0,1168.8 104.0,1168.8 106.8,1130.8 107.8,1130.8 107.8,1123.5 108.8,1123.5 108.8,1117.9 109.9,1117.9 109.9,1112.2 110.9,1112.2 110.9,1103.7 111.9,1103.7 111.9,1098.0 111.9,1098.0 112.9,1098.0 112.9,1092.4 113.9,1092.4 113.9,1086.7 115.0,1086.7 115.0,1083.9 116.0,1083.9 116.0,1078.2 117.0,1078.2 117.0,1072.6 117.0,1072.6 118.1,1072.6 118.1,1069.7 119.2,1069.7 119.2,1066.9 120.3,1066.9 120.3,1064.1 121.3,1064.1 121.3,1061.2 122.4,1061.2 122.4,1058.4 124.6,1058.4 124.6,1055.6 124.6,1055.6 125.6,1055.6 125.6,1047.1 126.6,1047.1 126.6,1038.6 127.7,1038.6 127.7,1033.0 128.7,1033.0 128.7,1024.5 129.7,1024.5 129.7,1016.0 129.7,1016.0 130.8,1016.0 130.8,1013.1 131.8,1013.1 131.8,1010.3 132.8,1010.3 132.8,1004.6 133.9,1004.6 133.9,1001.8 134.9,1001.8 134.9,996.2 136.0,996.2 136.0,993.3 136.0,993.3 137.0,993.3 137.0,990.5 139.1,990.5 139.1,987.7 140.1,987.7 140.1,984.8 141.1,984.8 141.1,982.0 142.1,982.0 142.1,979.2 143.1,979.2 143.1,976.4 145.2,976.4 145.2,973.5 146.2,973.5 146.2,970.7 146.2,970.7 148.3,970.7 148.3,967.9 150.3,967.9 150.3,965.0 153.5,965.0 153.5,962.2 155.5,962.2 155.5,959.4 157.6,959.4 158.7,959.4 158.7,956.5 160.9,956.5 160.9,953.7 163.2,953.7 163.2,950.9 165.4,950.9 165.4,948.1 166.5,948.1 168.5,948.1 168.5,945.2 170.6,945.2 170.6,942.4 173.6,942.4 173.6,939.6 175.7,939.6 175.7,936.7 176.7,936.7 181.7,936.7 197.0,936.7 202.2,936.7 202.2,939.6 203.3,939.6 207.8,939.6 207.8,942.4 212.2,942.4 212.2,945.2 212.2,945.2 217.5,945.2 217.5,948.1 221.7,948.1 221.7,950.9 224.9,950.9 226.0,950.9 226.0,953.7 230.2,953.7 230.2,956.5 233.4,956.5 233.4,959.4 236.5,959.4 236.5,962.2 237.6,962.2 239.7,962.2 239.7,965.0 241.8,965.0 241.8,967.9 243.9,967.9 243.9,970.7 247.1,970.7 247.1,973.5 249.2,973.5 249.2,976.4 250.3,976.4 251.4,976.4 251.4,979.2 253.5,979.2 253.5,982.0 255.6,982.0 255.6,984.8 258.8,984.8 258.8,987.7 260.9,987.7 260.9,990.5 263.0,990.5 263.0,993.3 263.0,993.3 265.1,993.3 265.1,996.2 267.2,996.2 267.2,999.0 269.4,999.0 269.4,1001.8 270.4,1001.8 270.4,1004.6 272.5,1004.6 272.5,1007.5 274.6,1007.5 274.6,1010.3 275.7,1010.3 276.8,1010.3 276.8,1013.1 278.9,1013.1 278.9,1016.0 281.0,1016.0 281.0,1018.8 282.0,1018.8 282.0,1021.6 284.2,1021.6 284.2,1024.5 286.3,1024.5 286.3,1027.3 288.4,1027.3 288.4,1030.1 288.4,1030.1 290.4,1030.1 290.4,1033.0 291.5,1033.0 291.5,1035.8 292.5,1035.8 292.5,1038.6 293.5,1038.6 293.5,1041.4 294.5,1041.4 294.5,1044.3 296.6,1044.3 296.6,1047.1 297.6,1047.1 297.6,1049.9 298.6,1049.9 298.6,1052.8 298.6,1052.8 299.7,1052.8 299.7,1055.6 300.7,1055.6 300.7,1058.4 301.8,1058.4 301.8,1061.2 302.8,1061.2 302.8,1066.9 303.9,1066.9 303.9,1069.7 305.0,1069.7 305.0,1072.6 306.0,1072.6 306.0,1075.4 307.1,1075.4 307.1,1078.2 308.1,1078.2 308.1,1083.9 309.2,1083.9 309.2,1086.7 310.2,1086.7 310.2,1089.5 311.3,1089.5 311.3,1092.4 311.3,1092.4 312.4,1092.4 312.4,1095.2 313.4,1095.2 313.4,1098.0 314.5,1098.0 314.5,1100.9 315.5,1100.9 315.5,1103.7 316.6,1103.7 316.6,1106.5 317.6,1106.5 317.6,1109.4 318.7,1109.4 318.7,1112.2 319.8,1112.2 319.8,1115.0 320.8,1115.0 320.8,1120.7 321.9,1120.7 321.9,1123.5 322.9,1123.5 322.9,1126.3 324.0,1126.3 324.0,1129.2 324.0,1129.2 325.0,1129.2 325.0,1132.0 326.0,1132.0 326.0,1134.8 327.0,1134.8 327.0,1137.7 328.0,1137.7 328.0,1143.3 329.1,1143.3 329.1,1146.2 330.1,1146.2 330.1,1149.0 331.1,1149.0 331.1,1151.8 332.1,1151.8 332.1,1157.5 333.1,1157.5 333.1,1160.3 334.1,1160.3 334.1,1163.1 334.1,1163.1 335.2,1163.1 335.2,1168.8 336.3,1168.8 336.3,1171.6 337.4,1171.6 337.4,1177.3 338.6,1177.3 338.6,1182.9 339.7,1182.9 339.7,1185.8 340.8,1185.8 340.8,1191.4 341.9,1191.4 341.9,1194.3 343.0,1194.3 343.0,1199.9 343.0,1199.9 344.0,1199.9 344.0,1205.6 345.1,1205.6 345.1,1211.2 346.1,1211.2 346.1,1216.9 347.2,1216.9 347.2,1222.6 348.2,1222.6 348.2,1225.4 349.3,1225.4 349.3,1231.0 350.3,1231.0 350.3,1236.7 350.3,1236.7 351.3,1236.7 351.3,1242.4 352.4,1242.4 352.4,1248.0 353.4,1248.0 353.4,1250.9 354.4,1250.9 354.4,1256.5 355.5,1256.5 355.5,1259.4 356.5,1259.4 356.5,1265.0 357.5,1265.0 357.5,1270.7 358.5,1270.7 358.5,1273.5 359.6,1273.5 359.6,1279.2 360.6,1279.2 360.6,1282.0 360.6,1282.0 361.6,1282.0 361.6,1287.7 362.7,1287.7 362.7,1293.3 363.7,1293.3 363.7,1296.1 364.7,1296.1 364.7,1301.8 365.8,1301.8 365.8,1307.5 366.8,1307.5 366.8,1310.3 367.8,1310.3 367.8,1316.0 368.8,1316.0 368.8,1321.6 369.9,1321.6 369.9,1324.4 370.9,1324.4 370.9,1330.1 370.9,1330.1 371.9,1330.1 371.9,1332.9 373.0,1332.9 373.0,1338.6 374.0,1338.6 374.0,1341.4 375.0,1341.4 375.0,1344.2 376.0,1344.2 376.0,1349.9 377.1,1349.9 377.1,1352.7 378.1,1352.7 378.1,1355.6 379.1,1355.6 379.1,1358.4 380.2,1358.4 380.2,1364.1 381.2,1364.1 381.2,1366.9 381.2,1366.9 383.3,1366.9 383.3,1369.7 385.3,1369.7 385.3,1372.5 387.4,1372.5 390.5,1372.5 390.5,1369.7 394.6,1369.7 394.6,1366.9 397.7,1366.9 397.7,1364.1 397.7,1364.1 398.7,1364.1 398.7,1358.4 399.8,1358.4 399.8,1352.7 400.8,1352.7 400.8,1344.2 401.8,1344.2 401.8,1338.6 402.9,1338.6 402.9,1330.1 403.9,1330.1 403.9,1324.4 403.9,1324.4 404.9,1324.4 404.9,1316.0 405.9,1316.0 405.9,1310.3 406.9,1310.3 406.9,1304.6 408.0,1304.6 408.0,1296.1 409.0,1296.1 409.0,1290.5 410.0,1290.5 410.0,1282.0 410.0,1282.0 412.4,1200.0 413.3,1145.0 414.6,1145.0 414.6,1140.5 416.0,1140.5 416.0,1134.8 416.0,1134.8 417.8,1147.0 420.5,1190.0 424.0,1260.0 425.1,1260.0 425.1,1267.8 426.2,1267.8 426.2,1276.3 427.3,1276.3 427.3,1284.8 428.4,1284.8 428.4,1293.3 429.5,1293.3 429.5,1299.0 429.5,1299.0 430.0,1497.0 430.6,1350.0 432.5,1200.0 436.0,1090.0 440.0,1030.0 445.0,980.0 446.0,980.0 446.0,973.5 447.0,973.5 447.0,965.0 448.0,965.0 448.0,956.5 449.0,956.5 449.0,950.9 449.0,950.9 456.0,950.9 457.1,950.9 457.1,953.7 460.4,953.7 460.4,956.5 463.6,956.5 463.6,959.4 464.7,959.4 465.9,959.4 465.9,956.5 468.3,956.5 468.3,953.7 468.3,953.7 469.5,953.7 469.5,950.9 470.7,950.9 470.7,948.1 471.9,948.1 473.0,948.1 473.0,945.2 476.2,945.2 476.2,942.4 477.3,942.4 480.9,942.4 483.6,942.4" fill="none" stroke="#800080" stroke-width="1.3" stroke-linejoin="round"/>
<polyline points="90.4,1427.0 92.5,1385.8 94.5,1344.6 97.6,1272.6 99.7,1221.0 101.3,1180.0 104.3,1135.9 105.3,1135.9 105.3,1126.3 106.3,1126.3 106.3,1117.9 107.4,1117.9 107.4,1109.4 108.4,1109.4 108.4,1100.9 109.4,1100.9 109.4,1092.4 109.4,1092.4 110.5,1092.4 110.5,1086.7 111.6,1086.7 111.6,1081.1 112.7,1081.1 112.7,1075.4 113.7,1075.4 113.7,1069.7 114.8,1069.7 114.8,1064.1 115.9,1064.1 115.9,1061.2 117.0,1061.2 117.0,1055.6 117.0,1055.6 118.1,1055.6 118.1,1049.9 119.2,1049.9 119.2,1047.1 120.3,1047.1 120.3,1044.3 121.3,1044.3 121.3,1041.4 122.4,1041.4 122.4,1035.8 123.5,1035.8 123.5,1033.0 124.6,1033.0 124.6,1030.1 124.6,1030.1 125.7,1030.1 125.7,1024.5 126.8,1024.5 126.8,1021.6 127.9,1021.6 127.9,1018.8 129.1,1018.8 129.1,1013.1 130.2,1013.1 130.2,1010.3 131.3,1010.3 131.3,1007.5 132.4,1007.5 132.4,1001.8 133.5,1001.8 133.5,999.0 133.5,999.0 134.5,999.0 134.5,996.2 135.5,996.2 135.5,993.3 136.6,993.3 136.6,990.5 137.6,990.5 137.6,987.7 138.6,987.7 138.6,984.8 140.6,984.8 140.6,982.0 141.7,982.0 141.7,979.2 142.7,979.2 142.7,976.4 143.7,976.4 143.7,973.5 143.7,973.5 144.7,973.5 144.7,970.7 146.7,970.7 146.7,967.9 149.8,967.9 149.8,965.0 151.8,965.0 151.8,962.2 153.8,962.2 153.8,959.4 155.9,959.4 155.9,956.5 157.9,956.5 157.9,953.7 158.9,953.7 160.0,953.7 160.0,950.9 163.1,950.9 163.1,948.1 166.3,948.1 166.3,945.2 169.5,945.2 169.5,942.4 171.6,942.4 172.7,942.4 172.7,939.6 176.8,939.6 176.8,936.7 177.9,936.7 195.7,936.7 196.8,936.7 196.8,939.6 199.9,939.6 199.9,942.4 202.0,942.4 204.1,942.4 204.1,945.2 208.4,945.2 208.4,948.1 213.7,948.1 213.7,950.9 214.8,950.9 218.0,950.9 218.0,953.7 223.3,953.7 223.3,956.5 227.5,956.5 227.5,959.4 227.5,959.4 230.5,959.4 230.5,962.2 233.6,962.2 233.6,965.0 235.6,965.0 235.6,967.9 238.6,967.9 238.6,970.7 240.7,970.7 240.7,973.5 242.7,973.5 243.8,973.5 243.8,976.4 244.8,976.4 244.8,979.2 246.9,979.2 246.9,982.0 249.1,982.0 249.1,984.8 251.2,984.8 251.2,987.7 253.3,987.7 253.3,990.5 254.3,990.5 254.3,993.3 255.4,993.3 256.4,993.3 256.4,996.2 258.4,996.2 258.4,999.0 260.5,999.0 260.5,1001.8 263.5,1001.8 263.5,1004.6 265.5,1004.6 265.5,1007.5 267.6,1007.5 267.6,1010.3 269.6,1010.3 269.6,1013.1 270.6,1013.1 271.6,1013.1 271.6,1016.0 273.7,1016.0 273.7,1018.8 275.7,1018.8 275.7,1021.6 276.7,1021.6 276.7,1024.5 278.8,1024.5 278.8,1027.3 280.8,1027.3 280.8,1030.1 282.8,1030.1 282.8,1033.0 284.9,1033.0 284.9,1035.8 285.9,1035.8 287.0,1035.8 287.0,1038.6 288.0,1038.6 288.0,1041.4 289.1,1041.4 289.1,1044.3 291.2,1044.3 291.2,1047.1 292.2,1047.1 292.2,1049.9 293.3,1049.9 293.3,1052.8 295.4,1052.8 295.4,1055.6 296.5,1055.6 296.5,1058.4 297.5,1058.4 297.5,1061.2 298.6,1061.2 299.7,1061.2 299.7,1064.1 300.7,1064.1 300.7,1066.9 301.8,1066.9 301.8,1069.7 302.8,1069.7 302.8,1075.4 303.9,1075.4 303.9,1078.2 305.0,1078.2 305.0,1081.1 306.0,1081.1 306.0,1083.9 307.1,1083.9 307.1,1086.7 308.1,1086.7 308.1,1089.5 309.2,1089.5 309.2,1092.4 310.2,1092.4 310.2,1095.2 311.3,1095.2 311.3,1098.0 311.3,1098.0 312.3,1098.0 312.3,1100.9 313.3,1100.9 313.3,1106.5 314.3,1106.5 314.3,1109.4 315.3,1109.4 315.3,1115.0 316.4,1115.0 316.4,1120.7 317.4,1120.7 317.4,1123.5 318.4,1123.5 318.4,1129.2 319.4,1129.2 319.4,1132.0 320.4,1132.0 320.4,1137.7 321.4,1137.7 321.4,1140.5 321.4,1140.5 322.4,1140.5 322.4,1143.3 323.4,1143.3 323.4,1149.0 324.5,1149.0 324.5,1151.8 325.5,1151.8 325.5,1154.6 326.5,1154.6 326.5,1157.5 327.5,1157.5 327.5,1160.3 328.5,1160.3 328.5,1163.1 329.6,1163.1 329.6,1168.8 330.6,1168.8 330.6,1171.6 331.6,1171.6 331.6,1174.5 331.6,1174.5 332.7,1174.5 332.7,1180.1 333.8,1180.1 333.8,1185.8 334.9,1185.8 334.9,1194.3 335.9,1194.3 335.9,1199.9 337.0,1199.9 337.0,1205.6 338.1,1205.6 338.1,1214.1 339.2,1214.1 339.2,1219.7 339.2,1219.7 340.2,1219.7 340.2,1225.4 341.2,1225.4 341.2,1228.2 342.3,1228.2 342.3,1233.9 343.3,1233.9 343.3,1236.7 344.3,1236.7 344.3,1242.4 345.3,1242.4 345.3,1245.2 346.3,1245.2 346.3,1250.9 347.4,1250.9 347.4,1253.7 348.4,1253.7 348.4,1259.4 349.4,1259.4 349.4,1262.2 349.4,1262.2 350.5,1262.2 350.5,1267.8 351.5,1267.8 351.5,1270.7 352.6,1270.7 352.6,1276.3 353.7,1276.3 353.7,1279.2 354.7,1279.2 354.7,1284.8 355.8,1284.8 355.8,1287.7 356.9,1287.7 356.9,1293.3 357.9,1293.3 357.9,1296.1 359.0,1296.1 359.0,1301.8 360.0,1301.8 360.0,1304.6 361.1,1304.6 361.1,1310.3 362.2,1310.3 362.2,1313.1 363.2,1313.1 363.2,1318.8 364.3,1318.8 364.3,1321.6 364.3,1321.6 365.4,1321.6 365.4,1327.3 366.4,1327.3 366.4,1330.1 367.5,1330.1 367.5,1335.8 368.5,1335.8 368.5,1338.6 369.6,1338.6 369.6,1344.2 370.6,1344.2 370.6,1347.1 371.7,1347.1 371.7,1352.7 372.8,1352.7 372.8,1355.6 373.8,1355.6 373.8,1361.2 374.9,1361.2 374.9,1364.1 375.9,1364.1 375.9,1369.7 377.0,1369.7 377.0,1372.5 377.0,1372.5 378.1,1372.5 378.1,1375.4 379.2,1375.4 379.2,1378.2 380.2,1378.2 380.2,1383.9 381.3,1383.9 381.3,1386.7 382.4,1386.7 382.4,1389.5 382.4,1389.5 383.6,1389.5 383.6,1386.7 384.8,1386.7 384.8,1383.9 386.0,1383.9 386.0,1381.0 386.0,1381.0 387.0,1381.0 387.0,1375.4 388.0,1375.4 388.0,1369.7 389.0,1369.7 389.0,1364.1 390.0,1364.1 390.0,1361.2 391.0,1361.2 391.0,1355.6 392.0,1355.6 392.0,1349.9 392.0,1349.9 393.0,1349.9 393.0,1347.1 394.0,1347.1 394.0,1344.2 395.0,1344.2 395.0,1341.4 396.0,1341.4 396.0,1338.6 397.0,1338.6 397.0,1335.8 398.0,1335.8 398.0,1332.9 399.0,1332.9 399.0,1330.1 400.0,1330.1 400.0,1327.3 401.0,1327.3 401.0,1324.4 401.0,1324.4 410.0,1237.7 411.0,1237.7 411.0,1233.9 412.0,1233.9 412.0,1228.2 413.0,1228.2 413.0,1225.4 414.0,1225.4 414.0,1219.7 414.0,1219.7 417.5,1280.0 418.5,1351.0 418.6,1406.0 419.5,1300.0 423.0,1230.0 424.0,1230.0 424.0,1225.4 425.0,1225.4 425.0,1222.6 426.0,1222.6 426.0,1216.9 427.0,1216.9 427.0,1214.1 428.0,1214.1 428.0,1208.4 429.0,1208.4 429.0,1205.6 430.0,1205.6 430.0,1199.9 430.0,1199.9 436.0,1100.0 441.0,1040.0 445.0,985.0 449.0,948.0 450.0,948.0 450.0,945.2 451.0,945.2 451.0,942.4 452.0,942.4 452.0,936.7 452.0,936.7 466.5,936.7 472.6,936.7 472.6,933.9 474.6,933.9 478.2,933.9 479.3,933.9 479.3,936.7 482.7,936.7 483.6,943.4" fill="none" stroke="#99ccff" stroke-width="1.3" stroke-linejoin="round"/>
<path d="M424.1 1227V1497" stroke="#000" stroke-width="2.4" fill="none"/>
<path d="M433.7 1180V1334" stroke="#700018" stroke-width="2.2" fill="none"/>
</svg>
<path d="M83.3 934.5V1500.8M81.800 1499.3H1188" stroke="#000" stroke-width="3" fill="none"/>
<path d="M102.6 1500.5v3 M125.0 1500.5v3 M147.3 1500.5v6 M169.6 1500.5v3 M192.0 1500.5v3 M214.3 1500.5v3 M236.7 1500.5v6 M259.0 1500.5v3 M281.3 1500.5v3 M303.7 1500.5v3 M326.0 1500.5v6 M348.4 1500.5v3 M370.7 1500.5v3 M393.1 1500.5v3 M415.4 1500.5v6 M437.7 1500.5v3 M460.1 1500.5v3 M482.4 1500.5v3 M504.8 1500.5v6 M527.1 1500.5v3 M549.4 1500.5v3 M571.8 1500.5v3 M594.1 1500.5v6 M616.5 1500.5v3 M638.8 1500.5v3 M661.1 1500.5v3 M683.5 1500.5v6 M705.8 1500.5v3 M728.2 1500.5v3 M750.5 1500.5v3 M772.9 1500.5v6 M795.2 1500.5v3 M817.5 1500.5v3 M839.9 1500.5v3 M862.2 1500.5v6 M884.6 1500.5v3 M906.9 1500.5v3 M929.2 1500.5v3 M951.6 1500.5v6 M973.9 1500.5v3 M996.3 1500.5v3 M1018.6 1500.5v3 M1041.0 1500.5v6 M1063.3 1500.5v3 M1085.6 1500.5v3 M1108.0 1500.5v3 M1130.3 1500.5v6 M1152.7 1500.5v3 M1175.0 1500.5v3 M82 1496.8h-5 M82 1468.5h-3 M82 1440.2h-3 M82 1411.9h-3 M82 1383.6h-5 M82 1355.3h-3 M82 1327.0h-3 M82 1298.7h-3 M82 1270.4h-5 M82 1242.1h-3 M82 1213.8h-3 M82 1185.5h-3 M82 1157.2h-5 M82 1128.9h-3 M82 1100.6h-3 M82 1072.3h-3 M82 1044.0h-5 M82 1015.7h-3 M82 987.4h-3 M82 959.1h-3" stroke="#555" stroke-width="1.2" fill="none"/>
<text x="147.3" y="1527.2" text-anchor="middle">500</text>
<text x="236.7" y="1527.2" text-anchor="middle">1000</text>
<text x="326.0" y="1527.2" text-anchor="middle">1500</text>
<text x="415.4" y="1527.2" text-anchor="middle">2000</text>
<text x="504.8" y="1527.2" text-anchor="middle">2500</text>
<text x="594.1" y="1527.2" text-anchor="middle">3000</text>
<text x="683.5" y="1527.2" text-anchor="middle">3500</text>
<text x="772.9" y="1527.2" text-anchor="middle">4000</text>
<text x="862.2" y="1527.2" text-anchor="middle">4500</text>
<text x="951.6" y="1527.2" text-anchor="middle">5000</text>
<text x="1041.0" y="1527.2" text-anchor="middle">5500</text>
<text x="1130.3" y="1527.2" text-anchor="middle">6000</text>
<text x="71.5" y="1502.3" text-anchor="end">0</text>
<text x="71.5" y="1389.1" text-anchor="end">0.2</text>
<text x="71.5" y="1275.9" text-anchor="end">0.4</text>
<text x="71.5" y="1162.7" text-anchor="end">0.6</text>
<text x="71.5" y="1049.5" text-anchor="end">0.8</text>
<text x="604.2" y="918.3" text-anchor="middle" fill="#0000ff" font-size="16" letter-spacing="0.2">0601_KHK</text>
<text x="634.5" y="1548.8" text-anchor="middle" fill="#0000ff" font-size="16" letter-spacing="0.5">Frequency (Hz)</text>
<ellipse cx="219.5" cy="1037" rx="135.5" ry="146" fill="none" stroke="#000" stroke-width="6"/>
<ellipse cx="919.5" cy="1202.1" rx="165.5" ry="252.9" fill="none" stroke="#000" stroke-width="6"/>
<path d="M343 870.500L314 909" stroke="#92d050" stroke-width="2.200" fill="none"/><path d="M308.400 916.800L311.300 904.400L320.200 911.100Z" fill="#92d050"/>
<path d="M921.200 870.500V931" stroke="#92d050" stroke-width="2.400" fill="none"/><path d="M921.300 941.700L915 929.500H927.600Z" fill="#92d050"/>
</svg>
<div class="t k gs" style="left:29.5px;top:1270.5px;font-size:20px;line-height:24px;color:#222;transform:translate(-50%,-50%) rotate(-90deg) scaleX(1.015);">Absorption Coefficient</div>
</div></body></html>
